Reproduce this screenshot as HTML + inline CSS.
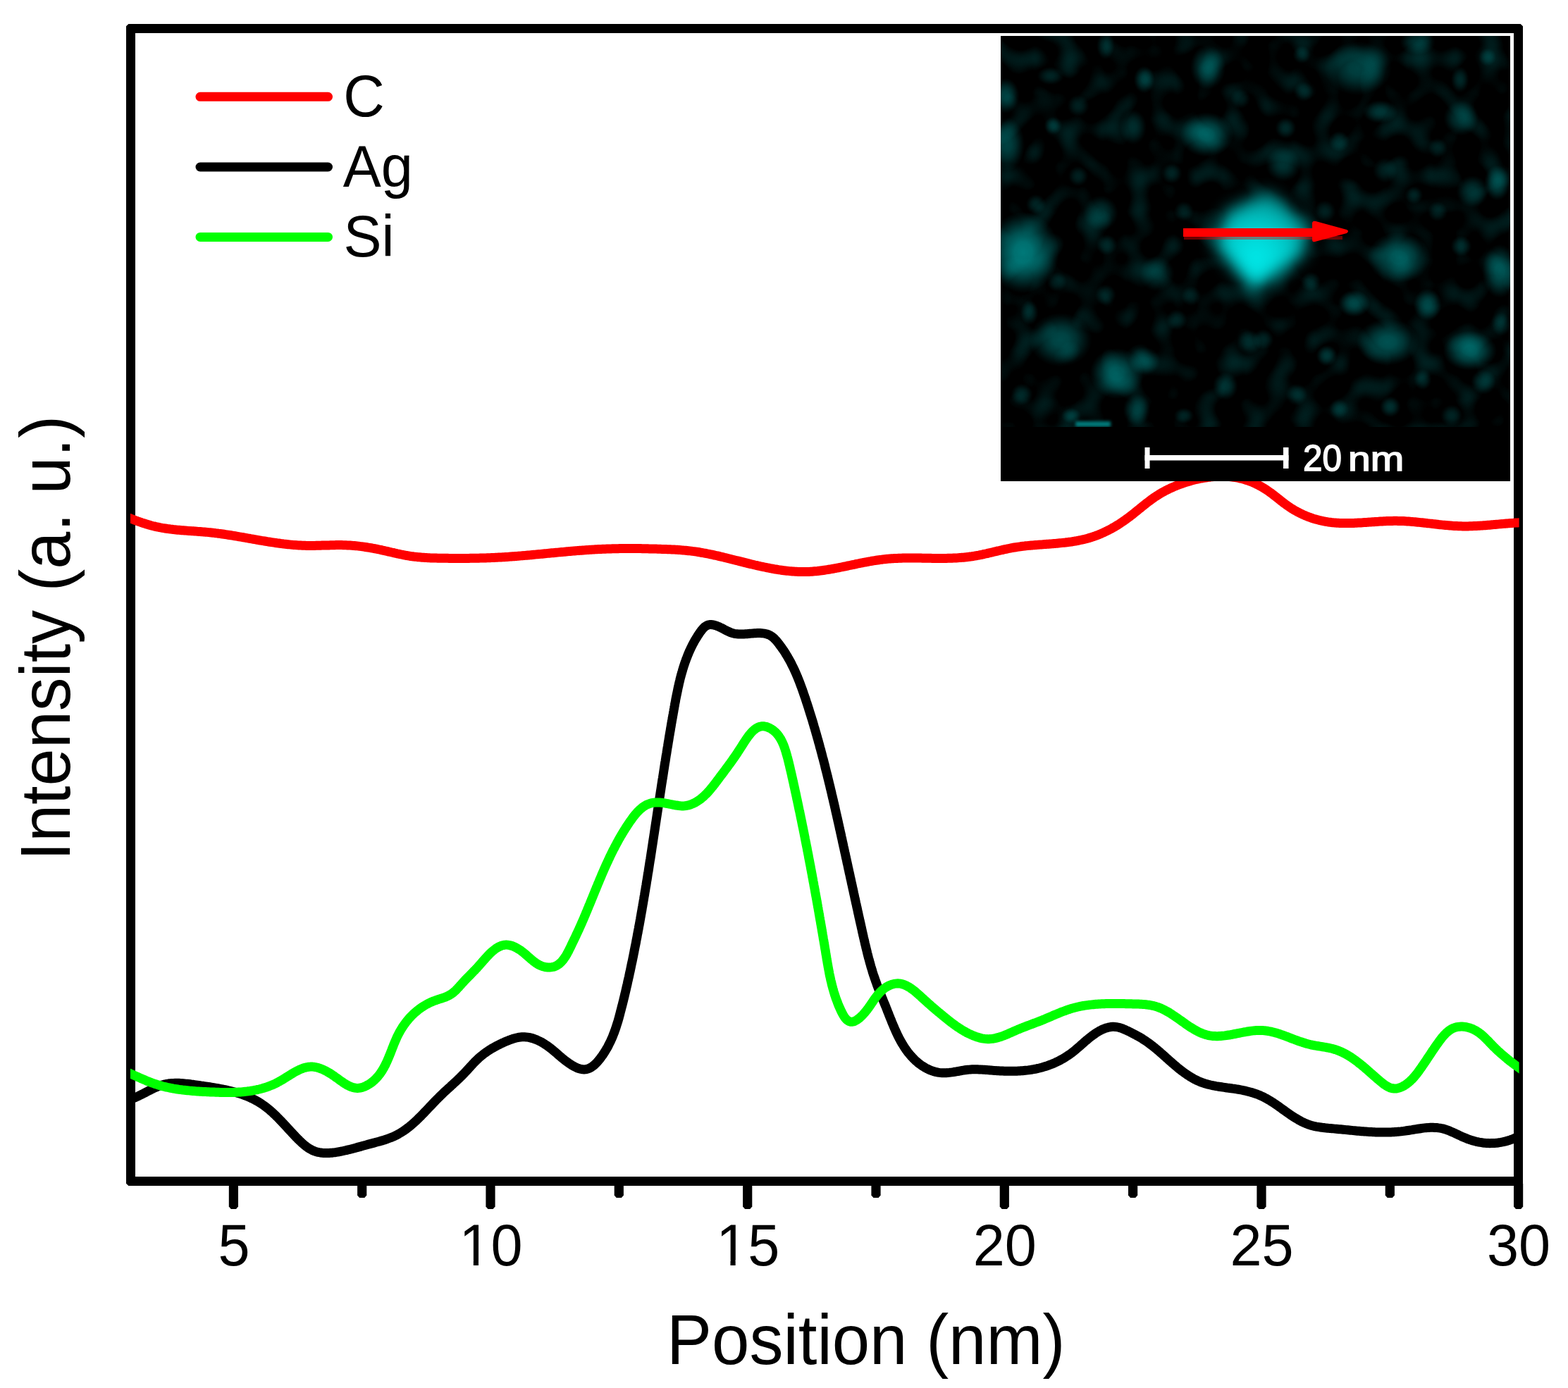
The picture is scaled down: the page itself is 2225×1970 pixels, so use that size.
<!DOCTYPE html>
<html><head><meta charset="utf-8"><title>Line profile</title>
<style>
html,body{margin:0;padding:0;background:#fff;}
body{width:2225px;height:1970px;overflow:hidden;}
svg{display:block;}
text{font-family:"Liberation Sans",Arial,sans-serif;}
</style></head>
<body>
<svg xmlns="http://www.w3.org/2000/svg" width="2225" height="1970" viewBox="0 0 2225 1970">
<defs>
<filter id="bl" x="-50%" y="-100%" width="200%" height="300%"><feGaussianBlur stdDeviation="2"/></filter>
<filter id="bl2" x="-30%" y="-30%" width="160%" height="160%"><feGaussianBlur stdDeviation="11"/></filter>
<radialGradient id="gb"><stop offset="0" stop-color="#00ffff" stop-opacity="1"/><stop offset="0.25" stop-color="#00ffff" stop-opacity="0.92"/><stop offset="0.5" stop-color="#00ffff" stop-opacity="0.66"/><stop offset="0.72" stop-color="#00ffff" stop-opacity="0.34"/><stop offset="0.88" stop-color="#00ffff" stop-opacity="0.12"/><stop offset="1" stop-color="#00ffff" stop-opacity="0"/></radialGradient>
<filter id="tex" x="0" y="0" width="100%" height="100%" filterUnits="objectBoundingBox" color-interpolation-filters="sRGB">
<feTurbulence type="fractalNoise" baseFrequency="0.03" numOctaves="1" seed="5" result="n"/>
<feColorMatrix in="n" type="matrix" values="0 0 0 0 0  1 0 0 0 0  1 0 0 0 0  0 0 0 0 1"/>
<feComponentTransfer><feFuncG type="linear" slope="0.45" intercept="-0.215"/><feFuncB type="linear" slope="0.45" intercept="-0.215"/></feComponentTransfer>
</filter>
<clipPath id="pc"><rect x="185" y="0" width="1970.6" height="1970"/></clipPath>
<clipPath id="ic"><rect x="1420" y="51" width="723" height="555"/></clipPath>
<radialGradient id="cg" cx="0.45" cy="0.66" r="0.7">
<stop offset="0" stop-color="#00ecec"/><stop offset="0.45" stop-color="#00cdcd"/><stop offset="1" stop-color="#008080"/>
</radialGradient>
</defs>
<rect width="2225" height="1970" fill="#fff"/>
<path d="M182.3,34 L2157.7,34 L2161,37.3 L2161,1679.7 L2157.7,1683 L182.3,1683 L179,1679.7 L179,37.3 Z M192,47 L192,1670 L2148,1670 L2148,47 Z" fill="#000" fill-rule="evenodd"/>
<g fill="#000"><polygon points="324.8,1680 338.0,1680 338.0,1712.4 335.0,1716.0 327.8,1716.0 324.8,1712.4"/><polygon points="689.4,1680 702.6,1680 702.6,1712.4 699.6,1716.0 692.4,1716.0 689.4,1712.4"/><polygon points="1054.1,1680 1067.3,1680 1067.3,1712.4 1064.3,1716.0 1057.1,1716.0 1054.1,1712.4"/><polygon points="1418.7,1680 1431.9,1680 1431.9,1712.4 1428.9,1716.0 1421.7,1716.0 1418.7,1712.4"/><polygon points="1783.4,1680 1796.6,1680 1796.6,1712.4 1793.6,1716.0 1786.4,1716.0 1783.4,1712.4"/><polygon points="2148.0,1680 2161.2,1680 2161.2,1712.4 2158.2,1716.0 2151.0,1716.0 2148.0,1712.4"/><polygon points="507.1,1680 520.3,1680 520.3,1696.4 517.3,1700.0 510.1,1700.0 507.1,1696.4"/><polygon points="871.7,1680 884.9,1680 884.9,1696.4 881.9,1700.0 874.7,1700.0 871.7,1696.4"/><polygon points="1236.4,1680 1249.6,1680 1249.6,1696.4 1246.6,1700.0 1239.4,1700.0 1236.4,1696.4"/><polygon points="1601.0,1680 1614.2,1680 1614.2,1696.4 1611.2,1700.0 1604.0,1700.0 1601.0,1696.4"/><polygon points="1965.7,1680 1978.9,1680 1978.9,1696.4 1975.9,1700.0 1968.7,1700.0 1965.7,1696.4"/></g>
<g fill="none" stroke-width="13" stroke-linejoin="round" clip-path="url(#pc)">
<path d="M174.8,732.2 L176.7,732.5 L178.6,733.2 L180.5,734.0 L182.4,734.8 L184.3,735.5 L186.1,736.3 L188.0,737.0 L189.9,737.7 L191.8,738.5 L193.7,739.2 L195.6,739.9 L197.5,740.5 L199.4,741.2 L201.3,741.9 L203.2,742.5 L205.2,743.1 L207.1,743.7 L209.0,744.3 L210.9,744.9 L212.9,745.4 L214.8,746.0 L216.7,746.5 L218.7,746.9 L220.6,747.4 L222.6,747.8 L224.5,748.2 L226.5,748.6 L228.4,749.0 L230.4,749.4 L232.3,749.7 L234.3,750.0 L236.3,750.3 L238.3,750.6 L240.2,750.8 L242.2,751.1 L244.2,751.3 L246.2,751.6 L248.2,751.8 L250.1,752.0 L252.1,752.2 L254.1,752.3 L256.1,752.5 L258.1,752.7 L260.1,752.8 L262.1,753.0 L264.1,753.1 L266.1,753.3 L268.1,753.4 L270.1,753.6 L272.1,753.7 L274.1,753.8 L276.1,754.0 L278.1,754.1 L280.1,754.3 L282.1,754.4 L284.1,754.5 L286.1,754.7 L288.1,754.9 L290.1,755.0 L292.1,755.2 L294.1,755.4 L296.1,755.6 L298.1,755.8 L300.1,756.0 L302.1,756.2 L304.0,756.4 L306.0,756.7 L308.0,756.9 L310.0,757.2 L312.0,757.4 L314.0,757.7 L316.0,758.0 L318.0,758.3 L319.9,758.6 L321.9,758.9 L323.9,759.2 L325.9,759.5 L327.9,759.8 L329.9,760.1 L331.8,760.5 L333.8,760.8 L335.8,761.1 L337.8,761.5 L339.7,761.8 L341.7,762.1 L343.7,762.5 L345.7,762.8 L347.7,763.2 L349.6,763.5 L351.6,763.9 L353.6,764.2 L355.6,764.6 L357.5,764.9 L359.5,765.3 L361.5,765.6 L363.5,766.0 L365.4,766.3 L367.4,766.7 L369.4,767.0 L371.4,767.4 L373.3,767.7 L375.3,768.0 L377.3,768.3 L379.3,768.7 L381.2,769.0 L383.2,769.3 L385.2,769.6 L387.2,769.9 L389.1,770.2 L391.1,770.5 L393.1,770.8 L395.1,771.0 L397.1,771.3 L399.0,771.6 L401.0,771.8 L403.0,772.1 L405.0,772.3 L407.0,772.5 L408.9,772.7 L410.9,772.9 L412.9,773.1 L414.9,773.3 L416.9,773.4 L418.9,773.6 L420.9,773.7 L422.9,773.9 L424.9,774.0 L426.8,774.1 L428.8,774.2 L430.8,774.3 L432.8,774.3 L434.8,774.4 L436.8,774.4 L438.8,774.4 L440.8,774.4 L442.8,774.4 L444.8,774.4 L446.8,774.4 L448.9,774.3 L450.9,774.3 L452.9,774.2 L454.9,774.2 L456.9,774.1 L458.9,774.1 L460.9,774.0 L462.9,774.0 L464.9,773.9 L466.9,773.9 L468.9,773.8 L470.9,773.8 L472.9,773.7 L474.9,773.7 L476.9,773.6 L478.9,773.6 L480.9,773.6 L482.9,773.6 L484.9,773.6 L486.9,773.7 L488.9,773.7 L490.9,773.8 L492.9,773.9 L494.9,774.0 L496.9,774.1 L498.9,774.2 L500.8,774.4 L502.8,774.5 L504.8,774.7 L506.8,774.9 L508.7,775.1 L510.7,775.4 L512.7,775.6 L514.7,775.9 L516.6,776.2 L518.6,776.5 L520.6,776.8 L522.5,777.1 L524.5,777.4 L526.5,777.7 L528.4,778.1 L530.4,778.5 L532.4,778.8 L534.3,779.2 L536.3,779.6 L538.2,780.0 L540.2,780.4 L542.1,780.9 L544.1,781.3 L546.0,781.7 L548.0,782.2 L550.0,782.6 L551.9,783.1 L553.9,783.5 L555.8,784.0 L557.8,784.4 L559.7,784.9 L561.7,785.3 L563.6,785.8 L565.6,786.2 L567.5,786.6 L569.5,787.0 L571.5,787.4 L573.4,787.8 L575.4,788.2 L577.4,788.5 L579.3,788.8 L581.3,789.2 L583.3,789.5 L585.2,789.7 L587.2,790.0 L589.2,790.2 L591.2,790.4 L593.2,790.7 L595.2,790.8 L597.1,791.0 L599.1,791.2 L601.1,791.3 L603.1,791.5 L605.1,791.6 L607.1,791.7 L609.1,791.8 L611.1,791.9 L613.1,792.0 L615.1,792.0 L617.1,792.1 L619.1,792.1 L621.1,792.2 L623.1,792.2 L625.1,792.3 L627.1,792.3 L629.1,792.3 L631.2,792.3 L633.2,792.3 L635.2,792.3 L637.2,792.4 L639.2,792.4 L641.2,792.4 L643.2,792.4 L645.2,792.4 L647.2,792.4 L649.2,792.4 L651.3,792.4 L653.3,792.4 L655.3,792.4 L657.3,792.4 L659.3,792.4 L661.3,792.4 L663.3,792.4 L665.3,792.4 L667.3,792.3 L669.3,792.3 L671.3,792.3 L673.4,792.3 L675.4,792.2 L677.4,792.2 L679.4,792.2 L681.4,792.1 L683.4,792.1 L685.4,792.0 L687.4,792.0 L689.4,791.9 L691.4,791.8 L693.4,791.8 L695.4,791.7 L697.4,791.6 L699.4,791.5 L701.4,791.4 L703.4,791.3 L705.4,791.2 L707.4,791.1 L709.4,791.0 L711.4,790.9 L713.4,790.8 L715.4,790.7 L717.4,790.5 L719.4,790.4 L721.4,790.3 L723.4,790.1 L725.4,790.0 L727.4,789.8 L729.4,789.7 L731.4,789.5 L733.4,789.4 L735.4,789.2 L737.3,789.1 L739.3,788.9 L741.3,788.7 L743.3,788.6 L745.3,788.4 L747.3,788.2 L749.3,788.0 L751.3,787.9 L753.3,787.7 L755.3,787.5 L757.3,787.3 L759.2,787.1 L761.2,786.9 L763.2,786.7 L765.2,786.6 L767.2,786.4 L769.2,786.2 L771.2,786.0 L773.2,785.8 L775.2,785.6 L777.1,785.4 L779.1,785.2 L781.1,785.0 L783.1,784.8 L785.1,784.7 L787.1,784.5 L789.1,784.3 L791.1,784.1 L793.1,783.9 L795.1,783.7 L797.0,783.5 L799.0,783.4 L801.0,783.2 L803.0,783.0 L805.0,782.8 L807.0,782.6 L809.0,782.5 L811.0,782.3 L813.0,782.1 L815.0,782.0 L817.0,781.8 L819.0,781.6 L821.0,781.5 L823.0,781.3 L825.0,781.2 L826.9,781.0 L828.9,780.9 L830.9,780.7 L832.9,780.6 L834.9,780.4 L836.9,780.3 L838.9,780.2 L840.9,780.1 L842.9,779.9 L844.9,779.8 L847.0,779.7 L849.0,779.6 L851.0,779.5 L853.0,779.4 L855.0,779.3 L857.0,779.2 L859.0,779.2 L861.0,779.1 L863.0,779.0 L865.0,779.0 L867.0,778.9 L869.0,778.8 L871.0,778.8 L873.1,778.8 L875.1,778.7 L877.1,778.7 L879.1,778.6 L881.1,778.6 L883.1,778.6 L885.1,778.6 L887.1,778.6 L889.2,778.5 L891.2,778.5 L893.2,778.5 L895.2,778.5 L897.2,778.5 L899.2,778.5 L901.2,778.6 L903.2,778.6 L905.2,778.6 L907.3,778.6 L909.3,778.6 L911.3,778.7 L913.3,778.7 L915.3,778.7 L917.3,778.8 L919.3,778.8 L921.3,778.9 L923.3,778.9 L925.3,779.0 L927.3,779.0 L929.3,779.1 L931.3,779.1 L933.3,779.2 L935.3,779.2 L937.3,779.3 L939.3,779.4 L941.2,779.4 L943.2,779.5 L945.2,779.6 L947.2,779.7 L949.2,779.7 L951.2,779.8 L953.1,779.9 L955.1,780.0 L957.1,780.1 L959.1,780.2 L961.0,780.3 L963.0,780.5 L965.0,780.6 L967.0,780.8 L968.9,780.9 L970.9,781.1 L972.9,781.3 L974.9,781.5 L976.8,781.7 L978.8,781.9 L980.8,782.1 L982.7,782.4 L984.7,782.6 L986.7,782.9 L988.6,783.2 L990.6,783.5 L992.6,783.8 L994.5,784.2 L996.5,784.5 L998.5,784.9 L1000.5,785.2 L1002.4,785.6 L1004.4,786.0 L1006.4,786.4 L1008.3,786.8 L1010.3,787.2 L1012.3,787.6 L1014.2,788.1 L1016.2,788.5 L1018.2,788.9 L1020.1,789.4 L1022.1,789.9 L1024.1,790.3 L1026.0,790.8 L1028.0,791.3 L1030.0,791.7 L1031.9,792.2 L1033.9,792.7 L1035.9,793.2 L1037.8,793.7 L1039.8,794.2 L1041.8,794.7 L1043.7,795.2 L1045.7,795.7 L1047.7,796.1 L1049.6,796.6 L1051.6,797.1 L1053.6,797.6 L1055.5,798.1 L1057.5,798.6 L1059.5,799.1 L1061.4,799.6 L1063.4,800.1 L1065.4,800.6 L1067.3,801.0 L1069.3,801.5 L1071.3,802.0 L1073.2,802.4 L1075.2,802.9 L1077.2,803.3 L1079.2,803.8 L1081.1,804.2 L1083.1,804.6 L1085.1,805.0 L1087.0,805.4 L1089.0,805.8 L1091.0,806.2 L1092.9,806.6 L1094.9,807.0 L1096.9,807.3 L1098.8,807.7 L1100.8,808.0 L1102.8,808.3 L1104.8,808.7 L1106.7,808.9 L1108.7,809.2 L1110.7,809.5 L1112.6,809.8 L1114.6,810.0 L1116.6,810.2 L1118.6,810.4 L1120.5,810.6 L1122.5,810.8 L1124.5,811.0 L1126.4,811.1 L1128.4,811.2 L1130.4,811.3 L1132.4,811.4 L1134.3,811.5 L1136.3,811.5 L1138.3,811.6 L1140.3,811.6 L1142.2,811.6 L1144.2,811.5 L1146.2,811.5 L1148.2,811.4 L1150.1,811.3 L1152.1,811.2 L1154.1,811.0 L1156.1,810.8 L1158.0,810.7 L1160.0,810.5 L1162.0,810.2 L1164.0,810.0 L1166.0,809.8 L1167.9,809.5 L1169.9,809.2 L1171.9,808.9 L1173.9,808.6 L1175.9,808.3 L1177.8,808.0 L1179.8,807.6 L1181.8,807.3 L1183.8,806.9 L1185.8,806.5 L1187.7,806.2 L1189.7,805.8 L1191.7,805.4 L1193.7,805.0 L1195.7,804.6 L1197.7,804.2 L1199.6,803.8 L1201.6,803.4 L1203.6,802.9 L1205.6,802.5 L1207.6,802.1 L1209.6,801.7 L1211.5,801.3 L1213.5,800.9 L1215.5,800.4 L1217.5,800.0 L1219.5,799.6 L1221.5,799.2 L1223.4,798.8 L1225.4,798.4 L1227.4,798.0 L1229.4,797.7 L1231.4,797.3 L1233.4,796.9 L1235.4,796.6 L1237.3,796.2 L1239.3,795.9 L1241.3,795.6 L1243.3,795.3 L1245.3,795.0 L1247.3,794.7 L1249.2,794.4 L1251.2,794.2 L1253.2,793.9 L1255.2,793.7 L1257.2,793.5 L1259.2,793.3 L1261.2,793.1 L1263.1,793.0 L1265.1,792.8 L1267.1,792.7 L1269.1,792.6 L1271.1,792.5 L1273.1,792.4 L1275.1,792.3 L1277.0,792.2 L1279.0,792.2 L1281.0,792.1 L1283.0,792.1 L1285.0,792.1 L1287.0,792.0 L1289.0,792.0 L1291.0,792.0 L1293.0,792.0 L1294.9,792.0 L1296.9,792.0 L1298.9,792.0 L1300.9,792.1 L1302.9,792.1 L1304.9,792.1 L1306.9,792.1 L1308.9,792.2 L1310.9,792.2 L1312.9,792.2 L1314.9,792.3 L1316.9,792.3 L1318.9,792.3 L1320.9,792.3 L1322.9,792.4 L1324.9,792.4 L1326.9,792.4 L1328.9,792.4 L1330.9,792.4 L1332.9,792.4 L1334.9,792.4 L1337.0,792.4 L1339.0,792.4 L1341.0,792.4 L1343.0,792.4 L1345.0,792.3 L1347.0,792.3 L1349.0,792.2 L1351.0,792.2 L1353.1,792.1 L1355.1,792.0 L1357.1,791.9 L1359.1,791.8 L1361.1,791.6 L1363.1,791.5 L1365.1,791.3 L1367.1,791.2 L1369.1,791.0 L1371.1,790.8 L1373.0,790.5 L1375.0,790.3 L1377.0,790.0 L1379.0,789.8 L1381.0,789.5 L1382.9,789.1 L1384.9,788.8 L1386.9,788.4 L1388.8,788.1 L1390.8,787.7 L1392.7,787.3 L1394.7,786.9 L1396.6,786.4 L1398.6,786.0 L1400.5,785.6 L1402.4,785.1 L1404.4,784.7 L1406.3,784.2 L1408.3,783.8 L1410.2,783.3 L1412.1,782.8 L1414.1,782.4 L1416.0,781.9 L1418.0,781.5 L1419.9,781.0 L1421.9,780.6 L1423.8,780.1 L1425.8,779.7 L1427.7,779.3 L1429.7,778.9 L1431.6,778.5 L1433.6,778.1 L1435.6,777.7 L1437.5,777.3 L1439.5,777.0 L1441.5,776.7 L1443.5,776.4 L1445.5,776.1 L1447.4,775.8 L1449.4,775.5 L1451.4,775.3 L1453.4,775.1 L1455.4,774.8 L1457.4,774.6 L1459.5,774.4 L1461.5,774.2 L1463.5,774.0 L1465.5,773.9 L1467.5,773.7 L1469.5,773.5 L1471.5,773.4 L1473.6,773.2 L1475.6,773.1 L1477.6,772.9 L1479.6,772.8 L1481.6,772.6 L1483.7,772.5 L1485.7,772.3 L1487.7,772.2 L1489.7,772.0 L1491.7,771.9 L1493.7,771.7 L1495.8,771.5 L1497.8,771.4 L1499.8,771.2 L1501.8,771.0 L1503.8,770.8 L1505.8,770.6 L1507.8,770.4 L1509.8,770.2 L1511.8,770.0 L1513.8,769.7 L1515.8,769.5 L1517.7,769.2 L1519.7,769.0 L1521.7,768.7 L1523.7,768.3 L1525.6,768.0 L1527.6,767.7 L1529.6,767.3 L1531.5,766.9 L1533.4,766.5 L1535.4,766.1 L1537.3,765.7 L1539.2,765.2 L1541.2,764.7 L1543.1,764.2 L1545.0,763.6 L1546.9,763.1 L1548.8,762.5 L1550.7,761.9 L1552.5,761.2 L1554.4,760.6 L1556.3,759.9 L1558.1,759.2 L1560.0,758.4 L1561.8,757.7 L1563.6,756.9 L1565.4,756.1 L1567.2,755.2 L1569.0,754.4 L1570.8,753.5 L1572.6,752.6 L1574.4,751.7 L1576.2,750.8 L1577.9,749.8 L1579.7,748.8 L1581.4,747.8 L1583.1,746.8 L1584.9,745.8 L1586.6,744.7 L1588.3,743.6 L1590.0,742.5 L1591.6,741.4 L1593.3,740.3 L1595.0,739.1 L1596.6,738.0 L1598.2,736.8 L1599.9,735.6 L1601.5,734.4 L1603.1,733.2 L1604.7,731.9 L1606.3,730.7 L1607.9,729.5 L1609.5,728.2 L1611.0,726.9 L1612.6,725.7 L1614.2,724.4 L1615.7,723.1 L1617.3,721.9 L1618.9,720.6 L1620.4,719.3 L1622.0,718.1 L1623.6,716.8 L1625.1,715.6 L1626.7,714.3 L1628.3,713.1 L1629.9,711.9 L1631.5,710.7 L1633.1,709.5 L1634.7,708.3 L1636.3,707.2 L1637.9,706.0 L1639.6,704.9 L1641.2,703.8 L1642.9,702.8 L1644.6,701.7 L1646.3,700.7 L1648.0,699.7 L1649.7,698.7 L1651.4,697.8 L1653.1,696.8 L1654.9,695.9 L1656.6,695.0 L1658.4,694.2 L1660.2,693.3 L1662.0,692.5 L1663.8,691.7 L1665.6,690.9 L1667.4,690.1 L1669.3,689.4 L1671.1,688.6 L1673.0,687.9 L1674.9,687.2 L1676.8,686.6 L1678.7,685.9 L1680.6,685.2 L1682.5,684.6 L1684.4,684.0 L1686.4,683.4 L1688.3,682.9 L1690.3,682.3 L1692.2,681.8 L1694.2,681.3 L1696.2,680.8 L1698.2,680.3 L1700.2,679.9 L1702.2,679.4 L1704.2,679.0 L1706.2,678.7 L1708.2,678.3 L1710.2,678.0 L1712.3,677.7 L1714.3,677.4 L1716.3,677.2 L1718.4,676.9 L1720.4,676.7 L1722.4,676.6 L1724.4,676.4 L1726.5,676.3 L1728.5,676.2 L1730.5,676.1 L1732.5,676.1 L1734.6,676.1 L1736.6,676.1 L1738.6,676.2 L1740.6,676.3 L1742.6,676.4 L1744.6,676.6 L1746.6,676.8 L1748.6,677.0 L1750.5,677.3 L1752.5,677.5 L1754.5,677.9 L1756.4,678.2 L1758.4,678.6 L1760.3,679.1 L1762.2,679.5 L1764.1,680.0 L1766.0,680.6 L1767.9,681.2 L1769.8,681.8 L1771.6,682.4 L1773.5,683.1 L1775.3,683.8 L1777.2,684.5 L1779.0,685.3 L1780.8,686.1 L1782.6,687.0 L1784.3,687.8 L1786.1,688.7 L1787.9,689.7 L1789.6,690.6 L1791.3,691.6 L1793.0,692.7 L1794.7,693.7 L1796.4,694.8 L1798.1,695.9 L1799.7,697.0 L1801.4,698.2 L1803.0,699.3 L1804.6,700.5 L1806.2,701.8 L1807.8,703.0 L1809.4,704.2 L1811.0,705.5 L1812.6,706.7 L1814.2,708.0 L1815.8,709.2 L1817.3,710.5 L1818.9,711.7 L1820.5,713.0 L1822.1,714.2 L1823.7,715.4 L1825.3,716.6 L1827.0,717.8 L1828.6,718.9 L1830.3,720.0 L1831.9,721.1 L1833.6,722.2 L1835.3,723.2 L1837.0,724.3 L1838.8,725.2 L1840.5,726.2 L1842.3,727.1 L1844.0,728.0 L1845.8,728.9 L1847.6,729.8 L1849.4,730.6 L1851.2,731.4 L1853.0,732.1 L1854.8,732.9 L1856.7,733.6 L1858.5,734.3 L1860.4,734.9 L1862.2,735.6 L1864.1,736.2 L1866.0,736.7 L1867.9,737.3 L1869.8,737.8 L1871.7,738.3 L1873.6,738.7 L1875.5,739.2 L1877.5,739.6 L1879.4,740.0 L1881.3,740.3 L1883.3,740.7 L1885.2,741.0 L1887.2,741.2 L1889.1,741.5 L1891.1,741.7 L1893.1,741.9 L1895.1,742.0 L1897.0,742.2 L1899.0,742.3 L1901.0,742.4 L1903.0,742.5 L1905.0,742.5 L1907.0,742.6 L1909.0,742.6 L1911.0,742.6 L1913.0,742.6 L1915.0,742.6 L1917.0,742.5 L1919.0,742.5 L1921.1,742.4 L1923.1,742.3 L1925.1,742.2 L1927.1,742.1 L1929.1,742.0 L1931.2,741.9 L1933.2,741.8 L1935.2,741.6 L1937.3,741.5 L1939.3,741.4 L1941.3,741.2 L1943.4,741.1 L1945.4,740.9 L1947.4,740.8 L1949.5,740.7 L1951.5,740.5 L1953.5,740.4 L1955.6,740.3 L1957.6,740.1 L1959.6,740.0 L1961.6,739.9 L1963.7,739.8 L1965.7,739.7 L1967.7,739.6 L1969.8,739.5 L1971.8,739.5 L1973.8,739.4 L1975.8,739.4 L1977.8,739.3 L1979.9,739.3 L1981.9,739.3 L1983.9,739.4 L1985.9,739.4 L1987.9,739.5 L1989.9,739.5 L1991.9,739.6 L1993.9,739.7 L1995.9,739.9 L1997.9,740.0 L1999.9,740.1 L2001.9,740.3 L2003.9,740.4 L2005.9,740.6 L2007.9,740.8 L2009.8,741.0 L2011.8,741.2 L2013.8,741.4 L2015.8,741.6 L2017.8,741.8 L2019.8,742.0 L2021.7,742.2 L2023.7,742.4 L2025.7,742.7 L2027.7,742.9 L2029.7,743.1 L2031.6,743.3 L2033.6,743.6 L2035.6,743.8 L2037.6,744.0 L2039.6,744.2 L2041.5,744.5 L2043.5,744.7 L2045.5,744.9 L2047.5,745.1 L2049.5,745.3 L2051.4,745.5 L2053.4,745.6 L2055.4,745.8 L2057.4,746.0 L2059.4,746.1 L2061.4,746.3 L2063.3,746.4 L2065.3,746.5 L2067.3,746.6 L2069.3,746.7 L2071.3,746.8 L2073.3,746.8 L2075.3,746.9 L2077.3,746.9 L2079.3,746.9 L2081.3,746.9 L2083.3,746.9 L2085.3,746.8 L2087.3,746.8 L2089.3,746.7 L2091.3,746.6 L2093.4,746.5 L2095.4,746.4 L2097.4,746.3 L2099.4,746.2 L2101.4,746.1 L2103.4,745.9 L2105.4,745.8 L2107.4,745.7 L2109.5,745.5 L2111.5,745.3 L2113.5,745.2 L2115.5,745.0 L2117.5,744.8 L2119.5,744.6 L2121.5,744.5 L2123.5,744.3 L2125.6,744.1 L2127.6,743.9 L2129.6,743.7 L2131.6,743.6 L2133.6,743.4 L2135.6,743.2 L2137.6,743.0 L2139.6,742.9 L2141.6,742.7 L2143.6,742.6 L2145.6,742.4 L2147.6,742.3 L2149.6,742.1 L2151.6,742.0 L2153.6,741.9 L2155.5,741.8 L2157.5,741.7 L2159.5,741.6 L2161.5,741.5 L2163.5,741.5 L2165.5,741.3" stroke="#ff0000"/>
<path d="M182.7,1560.9 L184.6,1560.2 L186.4,1559.7 L188.2,1559.0 L190.0,1558.4 L191.8,1557.7 L193.6,1556.9 L195.4,1556.1 L197.3,1555.2 L199.1,1554.3 L200.9,1553.4 L202.7,1552.5 L204.6,1551.5 L206.4,1550.6 L208.3,1549.6 L210.1,1548.6 L212.0,1547.7 L213.8,1546.7 L215.7,1545.8 L217.5,1544.9 L219.4,1544.0 L221.3,1543.2 L223.2,1542.4 L225.0,1541.6 L226.9,1540.9 L228.8,1540.3 L230.8,1539.7 L232.7,1539.2 L234.6,1538.8 L236.5,1538.4 L238.4,1538.1 L240.4,1537.8 L242.3,1537.6 L244.3,1537.5 L246.2,1537.4 L248.2,1537.3 L250.1,1537.3 L252.1,1537.3 L254.1,1537.3 L256.1,1537.4 L258.0,1537.6 L260.0,1537.7 L262.0,1537.9 L264.0,1538.1 L266.0,1538.3 L267.9,1538.5 L269.9,1538.8 L271.9,1539.1 L273.9,1539.3 L275.9,1539.6 L277.9,1539.9 L279.9,1540.2 L281.9,1540.5 L283.9,1540.8 L285.9,1541.1 L287.8,1541.3 L289.8,1541.6 L291.8,1541.9 L293.8,1542.2 L295.8,1542.5 L297.8,1542.8 L299.8,1543.1 L301.7,1543.4 L303.7,1543.8 L305.7,1544.1 L307.7,1544.4 L309.6,1544.8 L311.6,1545.1 L313.6,1545.5 L315.5,1545.9 L317.5,1546.3 L319.5,1546.7 L321.4,1547.1 L323.4,1547.6 L325.3,1548.0 L327.3,1548.5 L329.2,1549.0 L331.1,1549.5 L333.1,1550.0 L335.0,1550.6 L336.9,1551.2 L338.8,1551.8 L340.7,1552.4 L342.6,1553.0 L344.5,1553.7 L346.4,1554.4 L348.3,1555.1 L350.1,1555.8 L352.0,1556.6 L353.8,1557.4 L355.7,1558.2 L357.5,1559.1 L359.3,1559.9 L361.0,1560.8 L362.8,1561.8 L364.5,1562.7 L366.2,1563.7 L367.9,1564.7 L369.6,1565.8 L371.3,1566.9 L372.9,1568.0 L374.5,1569.1 L376.1,1570.3 L377.7,1571.5 L379.2,1572.7 L380.8,1573.9 L382.3,1575.2 L383.8,1576.5 L385.3,1577.8 L386.7,1579.1 L388.2,1580.5 L389.7,1581.8 L391.1,1583.2 L392.5,1584.6 L393.9,1586.0 L395.3,1587.4 L396.7,1588.9 L398.1,1590.3 L399.5,1591.8 L400.9,1593.3 L402.3,1594.7 L403.7,1596.2 L405.1,1597.7 L406.5,1599.2 L407.8,1600.7 L409.2,1602.2 L410.6,1603.7 L412.0,1605.2 L413.4,1606.8 L414.8,1608.3 L416.2,1609.8 L417.6,1611.3 L419.0,1612.8 L420.4,1614.3 L421.9,1615.7 L423.3,1617.2 L424.8,1618.7 L426.3,1620.1 L427.8,1621.5 L429.3,1622.9 L430.8,1624.2 L432.4,1625.5 L433.9,1626.7 L435.5,1627.9 L437.1,1629.1 L438.8,1630.1 L440.5,1631.1 L442.2,1632.0 L443.9,1632.9 L445.7,1633.6 L447.5,1634.3 L449.3,1634.9 L451.2,1635.3 L453.1,1635.7 L455.0,1636.0 L457.0,1636.3 L458.9,1636.4 L460.9,1636.5 L462.9,1636.6 L464.9,1636.6 L467.0,1636.5 L469.0,1636.3 L471.0,1636.2 L473.1,1635.9 L475.1,1635.7 L477.2,1635.4 L479.2,1635.0 L481.2,1634.7 L483.2,1634.3 L485.2,1633.9 L487.2,1633.5 L489.2,1633.0 L491.2,1632.6 L493.1,1632.1 L495.1,1631.7 L497.0,1631.2 L498.9,1630.7 L500.8,1630.2 L502.7,1629.7 L504.6,1629.2 L506.5,1628.6 L508.4,1628.1 L510.4,1627.6 L512.3,1627.1 L514.2,1626.5 L516.1,1626.0 L518.0,1625.5 L519.9,1625.0 L521.8,1624.4 L523.8,1623.9 L525.7,1623.4 L527.7,1622.9 L529.6,1622.4 L531.6,1621.9 L533.5,1621.3 L535.5,1620.8 L537.5,1620.3 L539.4,1619.7 L541.4,1619.1 L543.3,1618.6 L545.2,1618.0 L547.2,1617.3 L549.1,1616.7 L551.0,1616.0 L552.8,1615.3 L554.7,1614.6 L556.6,1613.9 L558.4,1613.1 L560.2,1612.2 L562.0,1611.4 L563.7,1610.5 L565.5,1609.5 L567.2,1608.5 L568.9,1607.5 L570.5,1606.5 L572.2,1605.4 L573.8,1604.3 L575.4,1603.2 L577.0,1602.0 L578.6,1600.8 L580.2,1599.6 L581.7,1598.3 L583.2,1597.1 L584.7,1595.8 L586.3,1594.5 L587.7,1593.1 L589.2,1591.8 L590.7,1590.4 L592.2,1589.0 L593.6,1587.6 L595.0,1586.2 L596.5,1584.8 L597.9,1583.4 L599.3,1581.9 L600.7,1580.5 L602.1,1579.0 L603.5,1577.5 L604.9,1576.1 L606.3,1574.6 L607.7,1573.1 L609.1,1571.6 L610.5,1570.2 L611.9,1568.7 L613.3,1567.2 L614.7,1565.7 L616.1,1564.3 L617.5,1562.8 L618.9,1561.4 L620.3,1559.9 L621.8,1558.5 L623.2,1557.1 L624.6,1555.7 L626.0,1554.3 L627.5,1552.9 L628.9,1551.5 L630.4,1550.1 L631.8,1548.8 L633.3,1547.4 L634.8,1546.1 L636.2,1544.8 L637.7,1543.4 L639.2,1542.1 L640.6,1540.7 L642.1,1539.4 L643.5,1538.1 L645.0,1536.7 L646.5,1535.4 L647.9,1534.0 L649.3,1532.7 L650.8,1531.3 L652.2,1529.9 L653.6,1528.6 L655.0,1527.2 L656.4,1525.7 L657.8,1524.3 L659.2,1522.9 L660.6,1521.4 L661.9,1520.0 L663.3,1518.5 L664.7,1517.0 L666.0,1515.5 L667.4,1514.0 L668.7,1512.5 L670.1,1511.1 L671.4,1509.6 L672.8,1508.1 L674.2,1506.7 L675.6,1505.3 L677.1,1503.9 L678.5,1502.5 L680.0,1501.2 L681.5,1499.9 L683.0,1498.6 L684.6,1497.4 L686.1,1496.1 L687.7,1494.9 L689.4,1493.8 L691.0,1492.6 L692.6,1491.5 L694.3,1490.4 L696.0,1489.4 L697.7,1488.3 L699.5,1487.3 L701.2,1486.3 L703.0,1485.4 L704.7,1484.4 L706.5,1483.5 L708.3,1482.6 L710.2,1481.7 L712.0,1480.8 L713.8,1480.0 L715.7,1479.1 L717.6,1478.3 L719.4,1477.5 L721.3,1476.8 L723.2,1476.0 L725.1,1475.3 L727.0,1474.7 L729.0,1474.0 L730.9,1473.5 L732.8,1473.0 L734.8,1472.6 L736.7,1472.2 L738.7,1472.0 L740.6,1471.8 L742.6,1471.7 L744.6,1471.8 L746.5,1471.9 L748.5,1472.1 L750.5,1472.4 L752.5,1472.9 L754.4,1473.4 L756.4,1473.9 L758.3,1474.6 L760.2,1475.3 L762.1,1476.1 L764.0,1477.0 L765.9,1477.9 L767.7,1478.8 L769.5,1479.8 L771.3,1480.9 L773.0,1482.0 L774.7,1483.1 L776.3,1484.2 L778.0,1485.4 L779.5,1486.5 L781.1,1487.7 L782.6,1488.9 L784.1,1490.2 L785.6,1491.4 L787.1,1492.7 L788.6,1493.9 L790.1,1495.2 L791.6,1496.5 L793.1,1497.8 L794.6,1499.1 L796.1,1500.4 L797.7,1501.7 L799.3,1503.0 L800.9,1504.3 L802.6,1505.6 L804.3,1506.9 L806.0,1508.2 L807.8,1509.4 L809.7,1510.6 L811.5,1511.8 L813.4,1512.9 L815.4,1514.0 L817.3,1514.9 L819.2,1515.8 L821.2,1516.5 L823.1,1517.1 L825.0,1517.5 L826.9,1517.8 L828.8,1517.9 L830.6,1517.8 L832.4,1517.5 L834.1,1517.0 L835.9,1516.4 L837.5,1515.6 L839.2,1514.6 L840.8,1513.5 L842.4,1512.3 L843.9,1511.0 L845.4,1509.6 L846.8,1508.1 L848.3,1506.5 L849.6,1504.9 L851.0,1503.2 L852.3,1501.5 L853.5,1499.8 L854.8,1498.1 L855.9,1496.4 L857.1,1494.6 L858.2,1492.9 L859.3,1491.1 L860.3,1489.3 L861.4,1487.6 L862.4,1485.8 L863.3,1484.0 L864.2,1482.2 L865.1,1480.4 L866.0,1478.6 L866.9,1476.7 L867.7,1474.9 L868.5,1473.1 L869.3,1471.2 L870.0,1469.4 L870.7,1467.5 L871.5,1465.7 L872.1,1463.8 L872.8,1461.9 L873.5,1460.0 L874.1,1458.2 L874.7,1456.3 L875.3,1454.4 L875.9,1452.5 L876.5,1450.6 L877.1,1448.7 L877.6,1446.8 L878.2,1444.8 L878.7,1442.9 L879.2,1441.0 L879.7,1439.1 L880.2,1437.2 L880.7,1435.2 L881.2,1433.3 L881.7,1431.4 L882.2,1429.4 L882.7,1427.5 L883.2,1425.6 L883.7,1423.6 L884.2,1421.7 L884.7,1419.7 L885.1,1417.8 L885.6,1415.8 L886.1,1413.9 L886.5,1411.9 L887.0,1410.0 L887.5,1408.0 L887.9,1406.1 L888.4,1404.1 L888.8,1402.2 L889.3,1400.2 L889.7,1398.3 L890.2,1396.3 L890.6,1394.3 L891.0,1392.4 L891.5,1390.4 L891.9,1388.5 L892.4,1386.5 L892.8,1384.5 L893.2,1382.6 L893.6,1380.6 L894.1,1378.7 L894.5,1376.7 L894.9,1374.7 L895.3,1372.8 L895.7,1370.8 L896.1,1368.9 L896.5,1366.9 L897.0,1364.9 L897.4,1363.0 L897.8,1361.0 L898.2,1359.0 L898.6,1357.1 L899.0,1355.1 L899.4,1353.1 L899.8,1351.2 L900.1,1349.2 L900.5,1347.3 L900.9,1345.3 L901.3,1343.3 L901.7,1341.4 L902.1,1339.4 L902.5,1337.4 L902.8,1335.5 L903.2,1333.5 L903.6,1331.5 L904.0,1329.6 L904.3,1327.6 L904.7,1325.6 L905.1,1323.7 L905.4,1321.7 L905.8,1319.7 L906.2,1317.8 L906.5,1315.8 L906.9,1313.8 L907.3,1311.9 L907.6,1309.9 L908.0,1307.9 L908.3,1306.0 L908.7,1304.0 L909.0,1302.0 L909.4,1300.1 L909.7,1298.1 L910.1,1296.1 L910.4,1294.1 L910.8,1292.2 L911.1,1290.2 L911.4,1288.2 L911.8,1286.3 L912.1,1284.3 L912.5,1282.3 L912.8,1280.4 L913.1,1278.4 L913.5,1276.4 L913.8,1274.4 L914.1,1272.5 L914.5,1270.5 L914.8,1268.5 L915.1,1266.6 L915.5,1264.6 L915.8,1262.6 L916.1,1260.6 L916.4,1258.7 L916.8,1256.7 L917.1,1254.7 L917.4,1252.8 L917.7,1250.8 L918.1,1248.8 L918.4,1246.8 L918.7,1244.9 L919.0,1242.9 L919.3,1240.9 L919.6,1238.9 L920.0,1237.0 L920.3,1235.0 L920.6,1233.0 L920.9,1231.1 L921.2,1229.1 L921.5,1227.1 L921.8,1225.1 L922.1,1223.2 L922.4,1221.2 L922.8,1219.2 L923.1,1217.2 L923.4,1215.3 L923.7,1213.3 L924.0,1211.3 L924.3,1209.3 L924.6,1207.4 L924.9,1205.4 L925.2,1203.4 L925.5,1201.4 L925.8,1199.5 L926.1,1197.5 L926.4,1195.5 L926.7,1193.5 L927.0,1191.6 L927.3,1189.6 L927.6,1187.6 L927.9,1185.6 L928.2,1183.7 L928.5,1181.7 L928.8,1179.7 L929.1,1177.7 L929.4,1175.7 L929.7,1173.8 L930.0,1171.8 L930.3,1169.8 L930.6,1167.8 L930.9,1165.9 L931.2,1163.9 L931.5,1161.9 L931.8,1159.9 L932.1,1158.0 L932.4,1156.0 L932.7,1154.0 L933.0,1152.0 L933.3,1150.0 L933.6,1148.1 L933.9,1146.1 L934.2,1144.1 L934.5,1142.1 L934.8,1140.1 L935.1,1138.2 L935.4,1136.2 L935.7,1134.2 L936.0,1132.2 L936.3,1130.3 L936.6,1128.3 L936.9,1126.3 L937.2,1124.3 L937.5,1122.3 L937.8,1120.4 L938.1,1118.4 L938.4,1116.4 L938.7,1114.4 L939.0,1112.4 L939.3,1110.5 L939.6,1108.5 L939.9,1106.5 L940.3,1104.5 L940.6,1102.5 L940.9,1100.6 L941.2,1098.6 L941.5,1096.6 L941.8,1094.6 L942.1,1092.6 L942.4,1090.7 L942.7,1088.7 L943.0,1086.7 L943.3,1084.7 L943.6,1082.7 L944.0,1080.8 L944.3,1078.8 L944.6,1076.8 L944.9,1074.8 L945.2,1072.8 L945.5,1070.9 L945.9,1068.9 L946.2,1066.9 L946.5,1064.9 L946.8,1062.9 L947.1,1061.0 L947.5,1059.0 L947.8,1057.0 L948.1,1055.0 L948.4,1053.0 L948.8,1051.0 L949.1,1049.1 L949.4,1047.1 L949.7,1045.1 L950.1,1043.1 L950.4,1041.1 L950.7,1039.2 L951.1,1037.2 L951.4,1035.2 L951.7,1033.2 L952.1,1031.2 L952.4,1029.2 L952.7,1027.3 L953.1,1025.3 L953.4,1023.3 L953.8,1021.3 L954.1,1019.3 L954.5,1017.4 L954.8,1015.4 L955.2,1013.4 L955.5,1011.4 L955.9,1009.4 L956.2,1007.4 L956.6,1005.5 L956.9,1003.5 L957.3,1001.5 L957.6,999.5 L958.0,997.5 L958.4,995.6 L958.7,993.6 L959.1,991.6 L959.5,989.6 L959.9,987.6 L960.3,985.7 L960.7,983.7 L961.1,981.7 L961.5,979.8 L961.9,977.8 L962.3,975.8 L962.8,973.9 L963.2,971.9 L963.6,970.0 L964.1,968.0 L964.6,966.1 L965.0,964.1 L965.5,962.2 L966.0,960.3 L966.5,958.3 L967.1,956.4 L967.6,954.5 L968.2,952.6 L968.7,950.6 L969.3,948.7 L969.9,946.8 L970.5,944.9 L971.1,943.1 L971.7,941.2 L972.4,939.3 L973.1,937.4 L973.7,935.6 L974.5,933.7 L975.2,931.9 L975.9,930.0 L976.7,928.2 L977.4,926.3 L978.2,924.5 L979.1,922.7 L979.9,920.9 L980.7,919.1 L981.6,917.3 L982.5,915.5 L983.4,913.8 L984.4,912.0 L985.3,910.3 L986.3,908.5 L987.4,906.8 L988.4,905.1 L989.5,903.3 L990.5,901.6 L991.7,900.0 L992.8,898.3 L994.0,896.6 L995.2,895.0 L996.4,893.4 L997.7,891.9 L999.1,890.5 L1000.5,889.3 L1002.0,888.3 L1003.6,887.5 L1005.3,886.9 L1007.1,886.6 L1009.0,886.5 L1010.9,886.7 L1013.0,887.1 L1015.1,887.7 L1017.2,888.4 L1019.3,889.2 L1021.4,890.2 L1023.5,891.1 L1025.5,892.1 L1027.4,893.2 L1029.3,894.2 L1031.1,895.1 L1032.9,896.0 L1034.7,896.8 L1036.4,897.6 L1038.2,898.3 L1040.0,898.8 L1041.9,899.3 L1043.8,899.6 L1045.7,899.8 L1047.7,900.0 L1049.7,900.1 L1051.7,900.1 L1053.7,900.0 L1055.8,899.9 L1057.9,899.8 L1060.0,899.7 L1062.1,899.5 L1064.2,899.3 L1066.3,899.1 L1068.4,898.9 L1070.5,898.8 L1072.6,898.7 L1074.6,898.6 L1076.7,898.5 L1078.7,898.6 L1080.7,898.7 L1082.6,898.9 L1084.6,899.1 L1086.4,899.5 L1088.3,900.0 L1090.0,900.6 L1091.8,901.3 L1093.4,902.2 L1095.0,903.2 L1096.6,904.4 L1098.1,905.7 L1099.5,907.1 L1100.9,908.6 L1102.2,910.1 L1103.6,911.7 L1104.9,913.4 L1106.1,915.0 L1107.3,916.7 L1108.6,918.3 L1109.7,920.0 L1110.9,921.7 L1112.1,923.3 L1113.2,925.0 L1114.3,926.7 L1115.3,928.5 L1116.4,930.2 L1117.4,931.9 L1118.4,933.7 L1119.4,935.4 L1120.4,937.2 L1121.4,938.9 L1122.3,940.7 L1123.2,942.5 L1124.1,944.3 L1125.0,946.1 L1125.9,947.9 L1126.7,949.7 L1127.6,951.5 L1128.4,953.3 L1129.2,955.1 L1130.0,957.0 L1130.8,958.8 L1131.5,960.6 L1132.3,962.5 L1133.0,964.3 L1133.8,966.2 L1134.5,968.1 L1135.2,969.9 L1135.9,971.8 L1136.6,973.7 L1137.3,975.5 L1138.0,977.4 L1138.7,979.3 L1139.3,981.2 L1140.0,983.1 L1140.6,985.0 L1141.3,986.8 L1141.9,988.7 L1142.6,990.6 L1143.2,992.5 L1143.8,994.4 L1144.4,996.3 L1145.1,998.2 L1145.7,1000.1 L1146.3,1002.0 L1146.9,1003.9 L1147.5,1005.8 L1148.1,1007.7 L1148.7,1009.6 L1149.3,1011.6 L1149.9,1013.5 L1150.5,1015.4 L1151.1,1017.3 L1151.7,1019.2 L1152.3,1021.1 L1152.9,1023.0 L1153.4,1024.9 L1154.0,1026.9 L1154.6,1028.8 L1155.1,1030.7 L1155.7,1032.6 L1156.3,1034.5 L1156.8,1036.5 L1157.4,1038.4 L1157.9,1040.3 L1158.5,1042.2 L1159.0,1044.1 L1159.6,1046.1 L1160.1,1048.0 L1160.7,1049.9 L1161.2,1051.9 L1161.7,1053.8 L1162.3,1055.7 L1162.8,1057.6 L1163.3,1059.6 L1163.8,1061.5 L1164.4,1063.4 L1164.9,1065.4 L1165.4,1067.3 L1165.9,1069.2 L1166.4,1071.2 L1166.9,1073.1 L1167.4,1075.0 L1168.0,1077.0 L1168.5,1078.9 L1169.0,1080.9 L1169.5,1082.8 L1170.0,1084.7 L1170.5,1086.7 L1170.9,1088.6 L1171.4,1090.6 L1171.9,1092.5 L1172.4,1094.5 L1172.9,1096.4 L1173.4,1098.3 L1173.9,1100.3 L1174.3,1102.2 L1174.8,1104.2 L1175.3,1106.1 L1175.8,1108.1 L1176.2,1110.0 L1176.7,1112.0 L1177.2,1113.9 L1177.7,1115.9 L1178.1,1117.8 L1178.6,1119.8 L1179.1,1121.7 L1179.5,1123.7 L1180.0,1125.6 L1180.4,1127.6 L1180.9,1129.5 L1181.3,1131.5 L1181.8,1133.4 L1182.3,1135.4 L1182.7,1137.3 L1183.2,1139.3 L1183.6,1141.2 L1184.1,1143.2 L1184.5,1145.1 L1185.0,1147.1 L1185.4,1149.0 L1185.8,1151.0 L1186.3,1152.9 L1186.7,1154.9 L1187.2,1156.8 L1187.6,1158.8 L1188.0,1160.7 L1188.5,1162.7 L1188.9,1164.6 L1189.4,1166.6 L1189.8,1168.6 L1190.2,1170.5 L1190.7,1172.5 L1191.1,1174.4 L1191.5,1176.4 L1192.0,1178.3 L1192.4,1180.3 L1192.8,1182.2 L1193.3,1184.2 L1193.7,1186.1 L1194.1,1188.1 L1194.6,1190.0 L1195.0,1192.0 L1195.4,1194.0 L1195.8,1195.9 L1196.3,1197.9 L1196.7,1199.8 L1197.1,1201.8 L1197.6,1203.7 L1198.0,1205.7 L1198.4,1207.6 L1198.8,1209.6 L1199.3,1211.5 L1199.7,1213.5 L1200.1,1215.4 L1200.5,1217.4 L1201.0,1219.3 L1201.4,1221.3 L1201.8,1223.2 L1202.2,1225.2 L1202.7,1227.1 L1203.1,1229.1 L1203.5,1231.0 L1203.9,1233.0 L1204.4,1234.9 L1204.8,1236.9 L1205.2,1238.8 L1205.7,1240.8 L1206.1,1242.7 L1206.5,1244.7 L1206.9,1246.6 L1207.4,1248.6 L1207.8,1250.5 L1208.2,1252.5 L1208.6,1254.4 L1209.1,1256.4 L1209.5,1258.3 L1209.9,1260.3 L1210.3,1262.2 L1210.8,1264.2 L1211.2,1266.1 L1211.6,1268.1 L1212.1,1270.1 L1212.5,1272.0 L1212.9,1274.0 L1213.3,1275.9 L1213.8,1277.9 L1214.2,1279.8 L1214.6,1281.8 L1215.1,1283.7 L1215.5,1285.7 L1215.9,1287.6 L1216.4,1289.6 L1216.8,1291.5 L1217.2,1293.5 L1217.6,1295.5 L1218.1,1297.4 L1218.5,1299.4 L1218.9,1301.3 L1219.4,1303.3 L1219.8,1305.3 L1220.2,1307.2 L1220.7,1309.2 L1221.1,1311.1 L1221.6,1313.1 L1222.0,1315.1 L1222.4,1317.0 L1222.9,1319.0 L1223.3,1320.9 L1223.7,1322.9 L1224.2,1324.9 L1224.6,1326.8 L1225.1,1328.8 L1225.5,1330.8 L1226.0,1332.7 L1226.4,1334.7 L1226.9,1336.6 L1227.3,1338.6 L1227.8,1340.6 L1228.3,1342.5 L1228.7,1344.5 L1229.2,1346.4 L1229.7,1348.4 L1230.2,1350.3 L1230.6,1352.3 L1231.1,1354.2 L1231.6,1356.2 L1232.1,1358.1 L1232.6,1360.0 L1233.2,1362.0 L1233.7,1363.9 L1234.2,1365.8 L1234.8,1367.8 L1235.3,1369.7 L1235.8,1371.6 L1236.4,1373.5 L1237.0,1375.4 L1237.6,1377.3 L1238.1,1379.2 L1238.7,1381.1 L1239.3,1383.0 L1240.0,1384.9 L1240.6,1386.8 L1241.2,1388.6 L1241.9,1390.5 L1242.5,1392.4 L1243.2,1394.2 L1243.9,1396.1 L1244.5,1397.9 L1245.2,1399.8 L1245.9,1401.6 L1246.6,1403.5 L1247.4,1405.3 L1248.1,1407.1 L1248.8,1409.0 L1249.6,1410.8 L1250.3,1412.6 L1251.0,1414.5 L1251.8,1416.3 L1252.5,1418.1 L1253.3,1420.0 L1254.0,1421.8 L1254.8,1423.7 L1255.6,1425.5 L1256.3,1427.4 L1257.1,1429.2 L1257.8,1431.1 L1258.6,1433.0 L1259.3,1434.9 L1260.0,1436.7 L1260.8,1438.6 L1261.5,1440.5 L1262.3,1442.4 L1263.0,1444.3 L1263.8,1446.2 L1264.6,1448.1 L1265.3,1450.0 L1266.1,1451.9 L1266.9,1453.8 L1267.7,1455.7 L1268.5,1457.5 L1269.3,1459.4 L1270.1,1461.3 L1270.9,1463.1 L1271.8,1465.0 L1272.6,1466.8 L1273.5,1468.7 L1274.4,1470.5 L1275.3,1472.3 L1276.2,1474.1 L1277.2,1475.9 L1278.1,1477.6 L1279.1,1479.4 L1280.1,1481.1 L1281.2,1482.8 L1282.2,1484.5 L1283.3,1486.2 L1284.4,1487.9 L1285.5,1489.5 L1286.7,1491.1 L1287.8,1492.7 L1289.0,1494.3 L1290.3,1495.8 L1291.5,1497.3 L1292.8,1498.8 L1294.2,1500.3 L1295.5,1501.7 L1296.9,1503.1 L1298.3,1504.5 L1299.8,1505.9 L1301.3,1507.2 L1302.8,1508.5 L1304.4,1509.7 L1306.0,1510.9 L1307.6,1512.1 L1309.3,1513.2 L1311.0,1514.2 L1312.7,1515.3 L1314.4,1516.2 L1316.2,1517.1 L1317.9,1518.0 L1319.7,1518.8 L1321.6,1519.5 L1323.4,1520.1 L1325.3,1520.7 L1327.2,1521.3 L1329.1,1521.7 L1331.0,1522.1 L1332.9,1522.4 L1334.9,1522.6 L1336.9,1522.8 L1338.8,1522.8 L1340.8,1522.8 L1342.8,1522.7 L1344.8,1522.6 L1346.8,1522.4 L1348.9,1522.1 L1350.9,1521.9 L1352.9,1521.6 L1355.0,1521.2 L1357.0,1520.9 L1359.0,1520.5 L1361.1,1520.2 L1363.1,1519.8 L1365.2,1519.4 L1367.2,1519.1 L1369.2,1518.8 L1371.3,1518.5 L1373.3,1518.3 L1375.3,1518.1 L1377.3,1517.9 L1379.3,1517.8 L1381.3,1517.8 L1383.3,1517.7 L1385.3,1517.7 L1387.3,1517.8 L1389.3,1517.9 L1391.3,1517.9 L1393.2,1518.1 L1395.2,1518.2 L1397.2,1518.3 L1399.2,1518.5 L1401.1,1518.6 L1403.1,1518.8 L1405.1,1519.0 L1407.1,1519.1 L1409.1,1519.3 L1411.1,1519.4 L1413.1,1519.6 L1415.0,1519.7 L1417.0,1519.8 L1419.0,1519.9 L1421.0,1520.0 L1423.0,1520.1 L1425.0,1520.2 L1427.0,1520.2 L1429.0,1520.3 L1431.0,1520.3 L1433.0,1520.3 L1435.1,1520.3 L1437.1,1520.3 L1439.1,1520.3 L1441.1,1520.2 L1443.1,1520.2 L1445.1,1520.1 L1447.1,1520.0 L1449.0,1519.8 L1451.0,1519.7 L1453.0,1519.5 L1455.0,1519.3 L1457.0,1519.1 L1459.0,1518.9 L1461.0,1518.6 L1462.9,1518.3 L1464.9,1518.0 L1466.9,1517.6 L1468.9,1517.3 L1470.8,1516.9 L1472.8,1516.4 L1474.7,1516.0 L1476.7,1515.5 L1478.6,1515.0 L1480.5,1514.4 L1482.5,1513.8 L1484.4,1513.2 L1486.3,1512.6 L1488.2,1511.9 L1490.1,1511.2 L1492.0,1510.5 L1493.8,1509.7 L1495.7,1508.9 L1497.5,1508.1 L1499.4,1507.2 L1501.2,1506.4 L1503.0,1505.5 L1504.8,1504.5 L1506.5,1503.6 L1508.3,1502.6 L1510.0,1501.6 L1511.7,1500.5 L1513.4,1499.4 L1515.1,1498.3 L1516.7,1497.2 L1518.4,1496.1 L1520.0,1494.9 L1521.6,1493.7 L1523.1,1492.5 L1524.7,1491.2 L1526.2,1490.0 L1527.7,1488.7 L1529.2,1487.4 L1530.7,1486.1 L1532.2,1484.8 L1533.7,1483.5 L1535.2,1482.2 L1536.7,1480.8 L1538.2,1479.5 L1539.7,1478.2 L1541.2,1476.9 L1542.8,1475.6 L1544.3,1474.3 L1545.9,1473.0 L1547.5,1471.7 L1549.2,1470.5 L1550.8,1469.3 L1552.5,1468.1 L1554.2,1466.9 L1556.0,1465.7 L1557.7,1464.6 L1559.5,1463.6 L1561.4,1462.6 L1563.2,1461.6 L1565.1,1460.8 L1567.0,1460.0 L1568.8,1459.3 L1570.8,1458.7 L1572.7,1458.2 L1574.6,1457.8 L1576.5,1457.5 L1578.5,1457.3 L1580.4,1457.3 L1582.4,1457.4 L1584.3,1457.6 L1586.3,1458.0 L1588.2,1458.4 L1590.2,1459.0 L1592.1,1459.7 L1594.0,1460.4 L1595.9,1461.2 L1597.8,1462.1 L1599.7,1463.0 L1601.6,1463.8 L1603.4,1464.7 L1605.2,1465.6 L1607.0,1466.6 L1608.8,1467.5 L1610.5,1468.4 L1612.3,1469.3 L1614.0,1470.3 L1615.7,1471.2 L1617.4,1472.2 L1619.1,1473.2 L1620.8,1474.2 L1622.4,1475.3 L1624.1,1476.3 L1625.7,1477.4 L1627.3,1478.5 L1628.9,1479.6 L1630.5,1480.8 L1632.1,1482.0 L1633.7,1483.2 L1635.3,1484.4 L1636.9,1485.7 L1638.4,1486.9 L1640.0,1488.2 L1641.6,1489.5 L1643.1,1490.8 L1644.7,1492.2 L1646.2,1493.5 L1647.7,1494.8 L1649.3,1496.2 L1650.8,1497.6 L1652.4,1498.9 L1653.9,1500.3 L1655.4,1501.7 L1657.0,1503.0 L1658.5,1504.4 L1660.0,1505.8 L1661.6,1507.2 L1663.1,1508.5 L1664.7,1509.9 L1666.2,1511.2 L1667.8,1512.5 L1669.4,1513.9 L1670.9,1515.2 L1672.5,1516.5 L1674.1,1517.7 L1675.7,1519.0 L1677.3,1520.2 L1678.9,1521.4 L1680.5,1522.6 L1682.2,1523.8 L1683.8,1524.9 L1685.5,1526.1 L1687.1,1527.1 L1688.8,1528.2 L1690.5,1529.2 L1692.2,1530.2 L1693.9,1531.2 L1695.7,1532.1 L1697.4,1533.0 L1699.2,1533.8 L1701.0,1534.6 L1702.8,1535.4 L1704.6,1536.1 L1706.4,1536.8 L1708.3,1537.4 L1710.1,1538.0 L1712.0,1538.5 L1713.9,1539.1 L1715.8,1539.5 L1717.8,1540.0 L1719.7,1540.4 L1721.6,1540.8 L1723.6,1541.2 L1725.6,1541.6 L1727.5,1541.9 L1729.5,1542.2 L1731.5,1542.5 L1733.5,1542.8 L1735.5,1543.1 L1737.5,1543.4 L1739.5,1543.7 L1741.5,1544.0 L1743.5,1544.2 L1745.5,1544.5 L1747.5,1544.8 L1749.5,1545.1 L1751.5,1545.3 L1753.5,1545.6 L1755.5,1546.0 L1757.5,1546.3 L1759.4,1546.6 L1761.4,1547.0 L1763.4,1547.4 L1765.3,1547.8 L1767.3,1548.2 L1769.2,1548.7 L1771.1,1549.2 L1773.1,1549.7 L1775.0,1550.2 L1776.9,1550.8 L1778.7,1551.4 L1780.6,1552.0 L1782.5,1552.6 L1784.3,1553.3 L1786.2,1554.0 L1788.0,1554.8 L1789.8,1555.6 L1791.6,1556.4 L1793.4,1557.3 L1795.1,1558.2 L1796.9,1559.1 L1798.6,1560.1 L1800.3,1561.1 L1802.1,1562.1 L1803.8,1563.2 L1805.4,1564.2 L1807.1,1565.3 L1808.8,1566.5 L1810.5,1567.6 L1812.2,1568.8 L1813.8,1569.9 L1815.5,1571.1 L1817.1,1572.3 L1818.8,1573.5 L1820.4,1574.7 L1822.1,1575.8 L1823.7,1577.0 L1825.4,1578.2 L1827.0,1579.4 L1828.7,1580.5 L1830.4,1581.7 L1832.0,1582.8 L1833.7,1584.0 L1835.4,1585.1 L1837.1,1586.1 L1838.8,1587.2 L1840.5,1588.2 L1842.2,1589.2 L1844.0,1590.2 L1845.7,1591.2 L1847.5,1592.1 L1849.2,1592.9 L1851.0,1593.8 L1852.8,1594.5 L1854.7,1595.3 L1856.5,1596.0 L1858.4,1596.6 L1860.3,1597.2 L1862.2,1597.7 L1864.1,1598.2 L1866.0,1598.7 L1868.0,1599.1 L1870.0,1599.4 L1871.9,1599.7 L1873.9,1600.0 L1875.9,1600.3 L1878.0,1600.5 L1880.0,1600.8 L1882.0,1601.0 L1884.0,1601.2 L1886.1,1601.4 L1888.1,1601.5 L1890.1,1601.7 L1892.2,1601.9 L1894.2,1602.1 L1896.2,1602.3 L1898.2,1602.5 L1900.2,1602.7 L1902.3,1602.8 L1904.3,1603.0 L1906.3,1603.2 L1908.3,1603.4 L1910.3,1603.6 L1912.3,1603.8 L1914.3,1604.0 L1916.3,1604.2 L1918.3,1604.4 L1920.3,1604.6 L1922.3,1604.8 L1924.3,1605.0 L1926.3,1605.2 L1928.3,1605.3 L1930.3,1605.5 L1932.2,1605.7 L1934.2,1605.8 L1936.2,1606.0 L1938.2,1606.1 L1940.2,1606.2 L1942.2,1606.4 L1944.2,1606.5 L1946.1,1606.6 L1948.1,1606.7 L1950.1,1606.8 L1952.1,1606.9 L1954.1,1606.9 L1956.0,1607.0 L1958.0,1607.0 L1960.0,1607.1 L1962.0,1607.1 L1964.0,1607.1 L1965.9,1607.1 L1967.9,1607.0 L1969.9,1607.0 L1971.9,1606.9 L1973.9,1606.9 L1975.8,1606.8 L1977.8,1606.7 L1979.8,1606.5 L1981.8,1606.4 L1983.8,1606.2 L1985.8,1606.1 L1987.8,1605.9 L1989.8,1605.6 L1991.8,1605.4 L1993.8,1605.1 L1995.8,1604.8 L1997.8,1604.5 L1999.8,1604.2 L2001.8,1603.9 L2003.8,1603.6 L2005.8,1603.2 L2007.8,1602.9 L2009.8,1602.6 L2011.8,1602.3 L2013.8,1602.0 L2015.8,1601.7 L2017.7,1601.4 L2019.7,1601.1 L2021.7,1600.9 L2023.7,1600.7 L2025.7,1600.6 L2027.7,1600.4 L2029.7,1600.3 L2031.6,1600.3 L2033.6,1600.3 L2035.6,1600.4 L2037.5,1600.5 L2039.5,1600.6 L2041.4,1600.9 L2043.4,1601.1 L2045.3,1601.5 L2047.3,1601.9 L2049.2,1602.4 L2051.1,1603.0 L2053.0,1603.6 L2054.9,1604.3 L2056.8,1605.1 L2058.7,1605.9 L2060.6,1606.7 L2062.5,1607.5 L2064.4,1608.4 L2066.3,1609.3 L2068.2,1610.2 L2070.1,1611.1 L2072.0,1612.0 L2073.9,1612.9 L2075.8,1613.7 L2077.7,1614.5 L2079.6,1615.3 L2081.5,1616.1 L2083.4,1616.8 L2085.3,1617.5 L2087.2,1618.1 L2089.1,1618.7 L2091.0,1619.3 L2092.9,1619.8 L2094.8,1620.3 L2096.7,1620.7 L2098.6,1621.1 L2100.6,1621.4 L2102.5,1621.7 L2104.4,1622.0 L2106.3,1622.2 L2108.3,1622.4 L2110.2,1622.5 L2112.1,1622.6 L2114.1,1622.7 L2116.0,1622.6 L2117.9,1622.6 L2119.9,1622.5 L2121.8,1622.4 L2123.7,1622.2 L2125.7,1622.0 L2127.6,1621.7 L2129.6,1621.4 L2131.5,1621.0 L2133.4,1620.6 L2135.4,1620.2 L2137.3,1619.6 L2139.3,1619.1 L2141.2,1618.5 L2143.1,1617.9 L2145.1,1617.2 L2147.0,1616.4 L2149.0,1615.6 L2150.9,1614.8 L2152.8,1613.9 L2154.8,1613.0 L2156.7,1612.0 L2158.7,1611.0 L2160.6,1610.1 L2162.5,1609.3 L2164.5,1608.6 L2166.4,1608.2 L2168.3,1608.5" stroke="#000000"/>
<path d="M174.8,1519.4 L176.7,1520.1 L178.5,1520.9 L180.3,1521.7 L182.1,1522.5 L183.9,1523.3 L185.7,1524.1 L187.5,1524.9 L189.4,1525.7 L191.2,1526.6 L193.0,1527.4 L194.9,1528.2 L196.7,1529.0 L198.6,1529.9 L200.4,1530.7 L202.3,1531.5 L204.1,1532.3 L206.0,1533.1 L207.9,1533.9 L209.7,1534.7 L211.6,1535.4 L213.5,1536.1 L215.4,1536.8 L217.3,1537.5 L219.2,1538.2 L221.1,1538.8 L223.0,1539.4 L224.9,1540.0 L226.8,1540.6 L228.7,1541.1 L230.6,1541.7 L232.6,1542.2 L234.5,1542.6 L236.4,1543.1 L238.4,1543.5 L240.3,1543.9 L242.3,1544.3 L244.2,1544.7 L246.2,1545.1 L248.1,1545.4 L250.1,1545.7 L252.1,1546.0 L254.0,1546.3 L256.0,1546.6 L258.0,1546.8 L259.9,1547.1 L261.9,1547.3 L263.9,1547.5 L265.9,1547.7 L267.9,1547.9 L269.9,1548.1 L271.9,1548.3 L273.9,1548.5 L275.9,1548.6 L277.9,1548.8 L279.9,1548.9 L281.9,1549.0 L283.9,1549.2 L285.9,1549.3 L287.9,1549.4 L289.9,1549.5 L291.9,1549.6 L293.9,1549.7 L296.0,1549.8 L298.0,1549.9 L300.0,1550.0 L302.0,1550.0 L304.0,1550.1 L306.1,1550.2 L308.1,1550.3 L310.1,1550.3 L312.1,1550.4 L314.1,1550.4 L316.2,1550.5 L318.2,1550.5 L320.2,1550.5 L322.2,1550.5 L324.2,1550.5 L326.2,1550.5 L328.3,1550.5 L330.3,1550.5 L332.3,1550.4 L334.3,1550.3 L336.3,1550.2 L338.3,1550.1 L340.3,1550.0 L342.3,1549.9 L344.3,1549.7 L346.2,1549.5 L348.2,1549.3 L350.2,1549.1 L352.2,1548.8 L354.1,1548.6 L356.1,1548.3 L358.1,1548.0 L360.0,1547.6 L362.0,1547.2 L363.9,1546.9 L365.8,1546.4 L367.8,1546.0 L369.7,1545.5 L371.6,1545.0 L373.5,1544.4 L375.4,1543.9 L377.3,1543.3 L379.2,1542.6 L381.0,1542.0 L382.9,1541.2 L384.8,1540.5 L386.6,1539.7 L388.5,1538.9 L390.3,1538.1 L392.1,1537.2 L393.9,1536.2 L395.7,1535.3 L397.5,1534.3 L399.3,1533.2 L401.1,1532.2 L402.9,1531.1 L404.6,1530.0 L406.4,1528.9 L408.2,1527.8 L409.9,1526.7 L411.7,1525.6 L413.4,1524.5 L415.2,1523.5 L416.9,1522.4 L418.7,1521.4 L420.4,1520.5 L422.2,1519.6 L424.0,1518.7 L425.7,1517.9 L427.5,1517.1 L429.3,1516.5 L431.0,1515.8 L432.8,1515.3 L434.6,1514.9 L436.5,1514.5 L438.3,1514.3 L440.1,1514.1 L442.0,1514.1 L443.8,1514.1 L445.7,1514.3 L447.6,1514.6 L449.5,1515.0 L451.4,1515.5 L453.3,1516.1 L455.2,1516.8 L457.1,1517.5 L459.0,1518.4 L460.9,1519.3 L462.8,1520.2 L464.6,1521.3 L466.5,1522.4 L468.4,1523.5 L470.2,1524.7 L472.0,1525.9 L473.9,1527.1 L475.6,1528.4 L477.4,1529.7 L479.2,1530.9 L480.9,1532.2 L482.7,1533.5 L484.4,1534.7 L486.2,1535.9 L487.9,1537.1 L489.6,1538.2 L491.3,1539.2 L493.1,1540.2 L494.8,1541.1 L496.5,1541.9 L498.3,1542.6 L500.0,1543.2 L501.8,1543.7 L503.6,1544.1 L505.4,1544.3 L507.2,1544.4 L509.0,1544.3 L510.9,1544.1 L512.7,1543.7 L514.6,1543.2 L516.5,1542.5 L518.3,1541.7 L520.2,1540.8 L522.0,1539.8 L523.8,1538.7 L525.5,1537.6 L527.2,1536.4 L528.8,1535.1 L530.4,1533.8 L531.9,1532.4 L533.3,1531.0 L534.7,1529.5 L536.0,1528.1 L537.3,1526.5 L538.5,1525.0 L539.7,1523.4 L540.8,1521.8 L541.9,1520.1 L542.9,1518.5 L543.9,1516.8 L544.9,1515.0 L545.8,1513.3 L546.8,1511.5 L547.6,1509.7 L548.5,1507.9 L549.3,1506.1 L550.1,1504.2 L550.9,1502.4 L551.7,1500.5 L552.5,1498.6 L553.2,1496.8 L554.0,1494.9 L554.7,1493.0 L555.5,1491.1 L556.2,1489.2 L556.9,1487.3 L557.7,1485.4 L558.4,1483.5 L559.2,1481.6 L560.0,1479.7 L560.8,1477.8 L561.6,1475.9 L562.4,1474.1 L563.2,1472.2 L564.1,1470.4 L565.0,1468.6 L565.9,1466.8 L566.9,1465.0 L567.9,1463.2 L568.9,1461.5 L570.0,1459.8 L571.0,1458.1 L572.1,1456.4 L573.3,1454.7 L574.5,1453.1 L575.6,1451.5 L576.9,1449.9 L578.1,1448.4 L579.4,1446.8 L580.7,1445.3 L582.1,1443.8 L583.4,1442.4 L584.8,1441.0 L586.2,1439.6 L587.7,1438.2 L589.2,1436.9 L590.7,1435.6 L592.2,1434.4 L593.7,1433.1 L595.3,1431.9 L596.9,1430.8 L598.5,1429.6 L600.2,1428.6 L601.9,1427.5 L603.6,1426.5 L605.3,1425.5 L607.1,1424.6 L608.8,1423.7 L610.6,1422.8 L612.5,1422.0 L614.3,1421.2 L616.2,1420.5 L618.1,1419.8 L620.0,1419.1 L621.9,1418.5 L623.8,1417.9 L625.8,1417.3 L627.7,1416.6 L629.6,1416.0 L631.5,1415.3 L633.3,1414.6 L635.1,1413.8 L636.9,1412.9 L638.6,1411.9 L640.3,1410.9 L641.9,1409.7 L643.5,1408.5 L645.0,1407.1 L646.5,1405.8 L647.9,1404.4 L649.3,1402.9 L650.7,1401.4 L652.0,1399.9 L653.4,1398.4 L654.7,1396.9 L656.1,1395.4 L657.4,1394.0 L658.7,1392.5 L660.0,1391.1 L661.4,1389.7 L662.7,1388.4 L664.0,1387.0 L665.4,1385.6 L666.7,1384.3 L668.1,1382.9 L669.4,1381.5 L670.8,1380.1 L672.1,1378.7 L673.5,1377.3 L674.9,1375.9 L676.3,1374.4 L677.6,1372.9 L679.0,1371.4 L680.4,1369.8 L681.8,1368.2 L683.3,1366.5 L684.7,1364.9 L686.1,1363.3 L687.6,1361.6 L689.0,1360.0 L690.5,1358.4 L692.0,1356.8 L693.5,1355.2 L695.0,1353.7 L696.5,1352.2 L698.0,1350.8 L699.6,1349.5 L701.2,1348.2 L702.7,1347.0 L704.3,1345.9 L706.0,1344.9 L707.6,1344.0 L709.3,1343.2 L710.9,1342.5 L712.6,1341.9 L714.4,1341.5 L716.1,1341.2 L717.8,1341.1 L719.6,1341.1 L721.4,1341.3 L723.2,1341.6 L725.1,1342.1 L726.9,1342.6 L728.7,1343.3 L730.6,1344.2 L732.4,1345.1 L734.2,1346.1 L736.0,1347.2 L737.8,1348.3 L739.6,1349.6 L741.3,1350.9 L743.0,1352.2 L744.7,1353.6 L746.3,1355.0 L747.9,1356.4 L749.5,1357.8 L751.1,1359.2 L752.7,1360.6 L754.3,1362.0 L755.9,1363.3 L757.5,1364.6 L759.2,1365.8 L760.8,1367.0 L762.5,1368.1 L764.2,1369.1 L766.0,1370.0 L767.8,1370.8 L769.6,1371.5 L771.5,1372.0 L773.4,1372.5 L775.3,1372.8 L777.2,1373.0 L779.1,1373.0 L781.0,1372.9 L782.8,1372.7 L784.7,1372.4 L786.5,1371.9 L788.2,1371.2 L789.8,1370.5 L791.4,1369.5 L793.0,1368.5 L794.4,1367.3 L795.8,1366.0 L797.2,1364.6 L798.5,1363.1 L799.7,1361.5 L800.9,1359.8 L802.1,1358.1 L803.2,1356.3 L804.3,1354.4 L805.3,1352.5 L806.4,1350.6 L807.3,1348.7 L808.3,1346.7 L809.3,1344.8 L810.2,1342.8 L811.1,1340.9 L812.0,1339.0 L812.9,1337.1 L813.8,1335.3 L814.7,1333.4 L815.6,1331.6 L816.4,1329.8 L817.3,1328.0 L818.1,1326.2 L819.0,1324.4 L819.8,1322.6 L820.6,1320.8 L821.5,1319.0 L822.3,1317.2 L823.1,1315.4 L823.9,1313.6 L824.7,1311.8 L825.5,1310.0 L826.3,1308.2 L827.1,1306.4 L827.9,1304.5 L828.7,1302.7 L829.4,1300.9 L830.2,1299.1 L831.0,1297.2 L831.7,1295.4 L832.5,1293.6 L833.3,1291.7 L834.0,1289.9 L834.8,1288.1 L835.5,1286.2 L836.3,1284.4 L837.1,1282.6 L837.8,1280.7 L838.6,1278.9 L839.3,1277.0 L840.1,1275.2 L840.8,1273.4 L841.6,1271.5 L842.3,1269.7 L843.1,1267.8 L843.8,1266.0 L844.6,1264.1 L845.3,1262.3 L846.1,1260.5 L846.8,1258.6 L847.6,1256.8 L848.3,1254.9 L849.1,1253.1 L849.9,1251.3 L850.6,1249.4 L851.4,1247.6 L852.2,1245.7 L853.0,1243.9 L853.7,1242.1 L854.5,1240.2 L855.3,1238.4 L856.1,1236.6 L856.9,1234.7 L857.7,1232.9 L858.5,1231.1 L859.3,1229.3 L860.2,1227.4 L861.0,1225.6 L861.8,1223.8 L862.7,1222.0 L863.5,1220.2 L864.4,1218.4 L865.2,1216.5 L866.1,1214.7 L867.0,1212.9 L867.8,1211.1 L868.7,1209.3 L869.6,1207.5 L870.5,1205.7 L871.5,1204.0 L872.4,1202.2 L873.3,1200.4 L874.3,1198.6 L875.2,1196.8 L876.2,1195.1 L877.1,1193.3 L878.1,1191.5 L879.1,1189.8 L880.1,1188.0 L881.1,1186.3 L882.2,1184.5 L883.2,1182.8 L884.3,1181.0 L885.3,1179.3 L886.4,1177.6 L887.5,1175.8 L888.6,1174.1 L889.7,1172.4 L890.8,1170.7 L892.0,1169.0 L893.1,1167.3 L894.3,1165.6 L895.5,1163.9 L896.7,1162.2 L897.9,1160.5 L899.1,1158.9 L900.4,1157.3 L901.7,1155.7 L903.0,1154.2 L904.3,1152.7 L905.7,1151.3 L907.1,1149.9 L908.5,1148.6 L910.0,1147.3 L911.5,1146.1 L913.0,1145.0 L914.6,1144.0 L916.2,1143.0 L917.9,1142.1 L919.6,1141.4 L921.4,1140.7 L923.2,1140.1 L925.0,1139.7 L926.9,1139.3 L928.9,1139.1 L930.9,1139.0 L932.9,1139.0 L934.9,1139.0 L937.0,1139.1 L939.1,1139.3 L941.2,1139.6 L943.3,1139.9 L945.4,1140.3 L947.5,1140.7 L949.6,1141.1 L951.6,1141.5 L953.7,1141.9 L955.7,1142.3 L957.7,1142.7 L959.7,1143.0 L961.7,1143.3 L963.7,1143.6 L965.7,1143.8 L967.6,1143.9 L969.5,1143.9 L971.5,1143.8 L973.4,1143.6 L975.3,1143.2 L977.2,1142.8 L979.1,1142.2 L980.9,1141.6 L982.8,1140.8 L984.6,1140.0 L986.4,1139.1 L988.1,1138.1 L989.8,1137.0 L991.5,1135.9 L993.2,1134.7 L994.8,1133.5 L996.3,1132.2 L997.9,1130.9 L999.4,1129.5 L1000.8,1128.1 L1002.3,1126.7 L1003.7,1125.2 L1005.1,1123.7 L1006.4,1122.2 L1007.7,1120.7 L1009.0,1119.1 L1010.3,1117.5 L1011.6,1116.0 L1012.8,1114.4 L1014.1,1112.8 L1015.3,1111.2 L1016.5,1109.6 L1017.7,1108.0 L1018.9,1106.4 L1020.1,1104.8 L1021.3,1103.2 L1022.4,1101.7 L1023.6,1100.1 L1024.8,1098.6 L1025.9,1097.1 L1027.1,1095.5 L1028.2,1094.0 L1029.4,1092.4 L1030.5,1090.9 L1031.7,1089.4 L1032.8,1087.8 L1034.0,1086.2 L1035.1,1084.7 L1036.3,1083.1 L1037.4,1081.5 L1038.6,1079.9 L1039.7,1078.3 L1040.9,1076.6 L1042.0,1074.9 L1043.2,1073.2 L1044.4,1071.5 L1045.6,1069.8 L1046.7,1068.0 L1047.9,1066.2 L1049.1,1064.4 L1050.3,1062.5 L1051.5,1060.6 L1052.8,1058.7 L1054.0,1056.7 L1055.2,1054.8 L1056.5,1052.8 L1057.8,1050.9 L1059.0,1049.0 L1060.4,1047.1 L1061.7,1045.2 L1063.0,1043.5 L1064.4,1041.8 L1065.8,1040.1 L1067.2,1038.6 L1068.7,1037.2 L1070.2,1035.9 L1071.7,1034.7 L1073.2,1033.6 L1074.8,1032.7 L1076.4,1032.0 L1078.1,1031.4 L1079.8,1031.0 L1081.5,1030.8 L1083.3,1030.8 L1085.1,1031.0 L1086.9,1031.4 L1088.8,1031.9 L1090.6,1032.7 L1092.5,1033.5 L1094.2,1034.5 L1095.9,1035.6 L1097.6,1036.8 L1099.1,1038.1 L1100.6,1039.4 L1101.9,1040.8 L1103.2,1042.3 L1104.5,1043.9 L1105.6,1045.5 L1106.7,1047.2 L1107.8,1048.9 L1108.7,1050.6 L1109.6,1052.4 L1110.5,1054.3 L1111.3,1056.1 L1112.1,1058.0 L1112.8,1059.9 L1113.5,1061.9 L1114.1,1063.8 L1114.8,1065.8 L1115.4,1067.8 L1115.9,1069.8 L1116.5,1071.7 L1117.0,1073.7 L1117.6,1075.7 L1118.1,1077.6 L1118.6,1079.6 L1119.1,1081.6 L1119.5,1083.5 L1120.0,1085.4 L1120.5,1087.4 L1120.9,1089.3 L1121.4,1091.3 L1121.8,1093.2 L1122.3,1095.1 L1122.7,1097.0 L1123.2,1099.0 L1123.6,1100.9 L1124.0,1102.9 L1124.5,1104.8 L1124.9,1106.7 L1125.3,1108.7 L1125.8,1110.6 L1126.2,1112.5 L1126.6,1114.5 L1127.0,1116.4 L1127.5,1118.4 L1127.9,1120.3 L1128.3,1122.3 L1128.7,1124.2 L1129.2,1126.2 L1129.6,1128.1 L1130.0,1130.1 L1130.4,1132.0 L1130.8,1134.0 L1131.3,1135.9 L1131.7,1137.9 L1132.1,1139.8 L1132.5,1141.8 L1132.9,1143.7 L1133.3,1145.7 L1133.7,1147.6 L1134.1,1149.6 L1134.6,1151.5 L1135.0,1153.5 L1135.4,1155.5 L1135.8,1157.4 L1136.2,1159.4 L1136.6,1161.3 L1137.0,1163.3 L1137.4,1165.3 L1137.8,1167.2 L1138.2,1169.2 L1138.6,1171.2 L1139.0,1173.1 L1139.4,1175.1 L1139.8,1177.0 L1140.2,1179.0 L1140.6,1181.0 L1141.0,1182.9 L1141.4,1184.9 L1141.8,1186.9 L1142.2,1188.8 L1142.5,1190.8 L1142.9,1192.8 L1143.3,1194.8 L1143.7,1196.7 L1144.1,1198.7 L1144.5,1200.7 L1144.9,1202.6 L1145.3,1204.6 L1145.6,1206.6 L1146.0,1208.5 L1146.4,1210.5 L1146.8,1212.5 L1147.2,1214.5 L1147.5,1216.4 L1147.9,1218.4 L1148.3,1220.4 L1148.7,1222.4 L1149.0,1224.3 L1149.4,1226.3 L1149.8,1228.3 L1150.2,1230.3 L1150.5,1232.2 L1150.9,1234.2 L1151.3,1236.2 L1151.6,1238.1 L1152.0,1240.1 L1152.4,1242.1 L1152.7,1244.1 L1153.1,1246.0 L1153.5,1248.0 L1153.8,1250.0 L1154.2,1252.0 L1154.6,1253.9 L1154.9,1255.9 L1155.3,1257.9 L1155.7,1259.9 L1156.0,1261.8 L1156.4,1263.8 L1156.7,1265.8 L1157.1,1267.8 L1157.4,1269.7 L1157.8,1271.7 L1158.2,1273.7 L1158.5,1275.6 L1158.9,1277.6 L1159.2,1279.6 L1159.6,1281.6 L1159.9,1283.5 L1160.3,1285.5 L1160.6,1287.5 L1161.0,1289.4 L1161.3,1291.4 L1161.7,1293.4 L1162.0,1295.4 L1162.3,1297.3 L1162.7,1299.3 L1163.0,1301.3 L1163.4,1303.2 L1163.7,1305.2 L1164.1,1307.2 L1164.4,1309.1 L1164.7,1311.1 L1165.1,1313.1 L1165.4,1315.0 L1165.8,1317.0 L1166.1,1319.0 L1166.4,1320.9 L1166.8,1322.9 L1167.1,1324.8 L1167.4,1326.8 L1167.8,1328.8 L1168.1,1330.7 L1168.4,1332.7 L1168.8,1334.7 L1169.1,1336.6 L1169.4,1338.6 L1169.8,1340.5 L1170.1,1342.5 L1170.4,1344.4 L1170.7,1346.4 L1171.1,1348.3 L1171.4,1350.3 L1171.7,1352.3 L1172.0,1354.2 L1172.4,1356.2 L1172.7,1358.1 L1173.0,1360.1 L1173.3,1362.0 L1173.7,1364.0 L1174.0,1365.9 L1174.3,1367.8 L1174.7,1369.8 L1175.0,1371.7 L1175.4,1373.7 L1175.7,1375.6 L1176.1,1377.6 L1176.5,1379.5 L1176.8,1381.5 L1177.2,1383.5 L1177.6,1385.4 L1178.1,1387.4 L1178.5,1389.3 L1178.9,1391.3 L1179.4,1393.2 L1179.9,1395.2 L1180.3,1397.2 L1180.8,1399.1 L1181.4,1401.1 L1181.9,1403.1 L1182.5,1405.0 L1183.0,1407.0 L1183.6,1409.0 L1184.2,1411.0 L1184.9,1413.0 L1185.5,1415.0 L1186.2,1416.9 L1186.9,1418.9 L1187.7,1420.9 L1188.4,1422.9 L1189.2,1425.0 L1190.0,1427.0 L1190.9,1429.0 L1191.8,1431.0 L1192.7,1433.0 L1193.6,1435.0 L1194.6,1437.0 L1195.6,1438.9 L1196.6,1440.8 L1197.7,1442.5 L1198.8,1444.2 L1200.0,1445.7 L1201.2,1447.0 L1202.5,1448.1 L1203.8,1449.0 L1205.2,1449.7 L1206.6,1450.2 L1208.1,1450.3 L1209.6,1450.2 L1211.2,1449.9 L1212.8,1449.3 L1214.4,1448.5 L1216.1,1447.5 L1217.7,1446.3 L1219.4,1445.0 L1221.0,1443.6 L1222.6,1442.1 L1224.2,1440.5 L1225.7,1438.8 L1227.2,1437.1 L1228.6,1435.4 L1230.0,1433.7 L1231.3,1431.9 L1232.6,1430.2 L1233.8,1428.4 L1235.0,1426.7 L1236.2,1425.0 L1237.4,1423.2 L1238.6,1421.5 L1239.7,1419.8 L1240.9,1418.1 L1242.1,1416.5 L1243.3,1414.9 L1244.5,1413.3 L1245.8,1411.7 L1247.1,1410.2 L1248.4,1408.7 L1249.8,1407.3 L1251.2,1405.9 L1252.7,1404.6 L1254.3,1403.3 L1255.9,1402.1 L1257.6,1401.0 L1259.4,1400.0 L1261.2,1399.0 L1263.0,1398.2 L1264.8,1397.5 L1266.7,1396.9 L1268.5,1396.4 L1270.4,1396.1 L1272.3,1395.9 L1274.1,1395.8 L1276.0,1395.9 L1277.8,1396.2 L1279.6,1396.6 L1281.5,1397.1 L1283.2,1397.7 L1285.0,1398.5 L1286.8,1399.3 L1288.5,1400.3 L1290.3,1401.3 L1292.0,1402.4 L1293.7,1403.6 L1295.4,1404.8 L1297.1,1406.1 L1298.8,1407.5 L1300.4,1408.9 L1302.0,1410.3 L1303.7,1411.7 L1305.3,1413.2 L1306.9,1414.6 L1308.4,1416.1 L1310.0,1417.5 L1311.6,1418.9 L1313.1,1420.3 L1314.6,1421.7 L1316.1,1423.0 L1317.6,1424.4 L1319.1,1425.7 L1320.6,1427.0 L1322.0,1428.3 L1323.5,1429.5 L1325.0,1430.8 L1326.4,1432.0 L1327.9,1433.3 L1329.4,1434.5 L1330.8,1435.8 L1332.3,1437.0 L1333.8,1438.2 L1335.3,1439.5 L1336.8,1440.7 L1338.3,1442.0 L1339.8,1443.2 L1341.4,1444.5 L1342.9,1445.7 L1344.5,1447.0 L1346.0,1448.2 L1347.6,1449.4 L1349.2,1450.7 L1350.8,1451.9 L1352.4,1453.1 L1354.1,1454.3 L1355.7,1455.5 L1357.4,1456.7 L1359.0,1457.8 L1360.7,1458.9 L1362.4,1460.0 L1364.1,1461.1 L1365.9,1462.2 L1367.6,1463.2 L1369.4,1464.2 L1371.1,1465.2 L1372.9,1466.2 L1374.8,1467.1 L1376.6,1467.9 L1378.4,1468.8 L1380.3,1469.6 L1382.2,1470.3 L1384.1,1471.1 L1386.0,1471.7 L1387.9,1472.3 L1389.8,1472.9 L1391.7,1473.4 L1393.7,1473.8 L1395.6,1474.1 L1397.6,1474.4 L1399.5,1474.6 L1401.5,1474.7 L1403.4,1474.7 L1405.4,1474.6 L1407.3,1474.4 L1409.2,1474.2 L1411.2,1473.8 L1413.1,1473.4 L1415.0,1472.9 L1417.0,1472.4 L1418.9,1471.8 L1420.8,1471.2 L1422.7,1470.5 L1424.6,1469.8 L1426.5,1469.0 L1428.4,1468.2 L1430.3,1467.4 L1432.2,1466.6 L1434.1,1465.8 L1436.0,1464.9 L1437.9,1464.1 L1439.8,1463.3 L1441.7,1462.4 L1443.5,1461.6 L1445.4,1460.8 L1447.3,1460.1 L1449.2,1459.3 L1451.0,1458.6 L1452.9,1457.8 L1454.8,1457.1 L1456.6,1456.4 L1458.5,1455.7 L1460.4,1455.0 L1462.2,1454.3 L1464.1,1453.6 L1465.9,1452.9 L1467.8,1452.2 L1469.7,1451.5 L1471.5,1450.8 L1473.4,1450.1 L1475.2,1449.4 L1477.1,1448.7 L1478.9,1447.9 L1480.8,1447.2 L1482.6,1446.4 L1484.5,1445.6 L1486.3,1444.8 L1488.2,1444.0 L1490.0,1443.2 L1491.9,1442.4 L1493.8,1441.6 L1495.6,1440.8 L1497.5,1440.0 L1499.3,1439.3 L1501.2,1438.5 L1503.1,1437.7 L1504.9,1436.9 L1506.8,1436.2 L1508.7,1435.5 L1510.6,1434.8 L1512.5,1434.1 L1514.4,1433.4 L1516.3,1432.8 L1518.2,1432.1 L1520.1,1431.5 L1522.0,1431.0 L1523.9,1430.5 L1525.8,1430.0 L1527.8,1429.5 L1529.7,1429.0 L1531.6,1428.6 L1533.6,1428.2 L1535.5,1427.8 L1537.5,1427.5 L1539.4,1427.2 L1541.4,1426.9 L1543.4,1426.6 L1545.3,1426.3 L1547.3,1426.1 L1549.3,1425.9 L1551.3,1425.7 L1553.2,1425.5 L1555.2,1425.3 L1557.2,1425.2 L1559.2,1425.0 L1561.2,1424.9 L1563.2,1424.8 L1565.2,1424.7 L1567.2,1424.7 L1569.2,1424.6 L1571.2,1424.5 L1573.2,1424.5 L1575.2,1424.5 L1577.2,1424.5 L1579.3,1424.5 L1581.3,1424.4 L1583.3,1424.5 L1585.3,1424.5 L1587.3,1424.5 L1589.4,1424.5 L1591.4,1424.6 L1593.4,1424.6 L1595.4,1424.6 L1597.5,1424.7 L1599.5,1424.7 L1601.5,1424.8 L1603.5,1424.8 L1605.6,1424.8 L1607.6,1424.9 L1609.6,1424.9 L1611.6,1425.0 L1613.7,1425.0 L1615.7,1425.1 L1617.7,1425.2 L1619.7,1425.3 L1621.7,1425.4 L1623.7,1425.6 L1625.7,1425.7 L1627.7,1426.0 L1629.6,1426.2 L1631.6,1426.5 L1633.5,1426.9 L1635.4,1427.3 L1637.4,1427.7 L1639.3,1428.2 L1641.1,1428.8 L1643.0,1429.4 L1644.8,1430.1 L1646.7,1430.8 L1648.5,1431.6 L1650.3,1432.5 L1652.1,1433.4 L1653.9,1434.3 L1655.6,1435.3 L1657.4,1436.3 L1659.2,1437.3 L1660.9,1438.4 L1662.6,1439.5 L1664.3,1440.6 L1666.1,1441.8 L1667.8,1443.0 L1669.5,1444.1 L1671.2,1445.3 L1672.9,1446.5 L1674.6,1447.7 L1676.3,1448.9 L1678.0,1450.1 L1679.7,1451.3 L1681.4,1452.5 L1683.0,1453.7 L1684.7,1454.9 L1686.4,1456.0 L1688.1,1457.2 L1689.8,1458.3 L1691.6,1459.3 L1693.3,1460.4 L1695.0,1461.4 L1696.7,1462.4 L1698.5,1463.3 L1700.2,1464.2 L1702.0,1465.1 L1703.7,1465.9 L1705.5,1466.6 L1707.3,1467.3 L1709.1,1467.9 L1710.9,1468.5 L1712.8,1469.0 L1714.6,1469.5 L1716.5,1469.8 L1718.4,1470.1 L1720.3,1470.4 L1722.2,1470.5 L1724.1,1470.6 L1726.0,1470.7 L1728.0,1470.7 L1729.9,1470.6 L1731.9,1470.5 L1733.9,1470.3 L1735.9,1470.1 L1737.9,1469.9 L1739.9,1469.6 L1741.9,1469.3 L1743.9,1469.0 L1746.0,1468.7 L1748.0,1468.3 L1750.0,1467.9 L1752.1,1467.5 L1754.1,1467.1 L1756.2,1466.7 L1758.2,1466.3 L1760.3,1465.9 L1762.3,1465.5 L1764.3,1465.1 L1766.4,1464.7 L1768.4,1464.4 L1770.5,1464.0 L1772.5,1463.7 L1774.5,1463.4 L1776.6,1463.1 L1778.6,1462.9 L1780.6,1462.7 L1782.6,1462.6 L1784.6,1462.5 L1786.6,1462.4 L1788.5,1462.4 L1790.5,1462.5 L1792.4,1462.6 L1794.4,1462.8 L1796.3,1463.0 L1798.2,1463.2 L1800.1,1463.6 L1802.1,1463.9 L1804.0,1464.3 L1805.8,1464.8 L1807.7,1465.2 L1809.6,1465.7 L1811.5,1466.3 L1813.4,1466.8 L1815.2,1467.4 L1817.1,1468.1 L1819.0,1468.7 L1820.8,1469.4 L1822.7,1470.0 L1824.5,1470.7 L1826.4,1471.4 L1828.3,1472.1 L1830.1,1472.9 L1832.0,1473.6 L1833.9,1474.3 L1835.8,1475.0 L1837.6,1475.7 L1839.5,1476.4 L1841.4,1477.1 L1843.3,1477.8 L1845.2,1478.5 L1847.2,1479.1 L1849.1,1479.7 L1851.0,1480.3 L1853.0,1480.9 L1854.9,1481.5 L1856.9,1482.0 L1858.9,1482.5 L1860.8,1483.0 L1862.9,1483.4 L1864.9,1483.8 L1866.9,1484.1 L1868.9,1484.5 L1870.9,1484.8 L1873.0,1485.1 L1875.0,1485.4 L1877.0,1485.8 L1879.0,1486.1 L1881.1,1486.4 L1883.0,1486.8 L1885.0,1487.2 L1887.0,1487.6 L1888.9,1488.0 L1890.9,1488.5 L1892.8,1489.1 L1894.7,1489.6 L1896.5,1490.2 L1898.3,1490.9 L1900.2,1491.6 L1901.9,1492.4 L1903.7,1493.1 L1905.5,1494.0 L1907.2,1494.8 L1908.9,1495.7 L1910.6,1496.7 L1912.3,1497.6 L1914.0,1498.6 L1915.6,1499.7 L1917.3,1500.7 L1918.9,1501.8 L1920.5,1502.9 L1922.1,1504.1 L1923.7,1505.2 L1925.3,1506.4 L1926.9,1507.6 L1928.4,1508.8 L1930.0,1510.1 L1931.6,1511.3 L1933.1,1512.6 L1934.7,1513.9 L1936.2,1515.2 L1937.7,1516.5 L1939.3,1517.9 L1940.8,1519.2 L1942.4,1520.6 L1943.9,1521.9 L1945.4,1523.3 L1947.0,1524.6 L1948.5,1526.0 L1950.1,1527.4 L1951.7,1528.7 L1953.2,1530.1 L1954.8,1531.5 L1956.4,1532.8 L1958.0,1534.2 L1959.6,1535.5 L1961.2,1536.8 L1962.8,1538.1 L1964.4,1539.3 L1966.1,1540.4 L1967.7,1541.4 L1969.4,1542.4 L1971.1,1543.2 L1972.8,1543.9 L1974.6,1544.4 L1976.3,1544.8 L1978.1,1545.0 L1979.9,1545.0 L1981.8,1544.9 L1983.6,1544.5 L1985.4,1544.0 L1987.3,1543.4 L1989.1,1542.6 L1990.9,1541.7 L1992.7,1540.7 L1994.4,1539.6 L1996.1,1538.5 L1997.7,1537.2 L1999.3,1535.9 L2000.8,1534.6 L2002.3,1533.1 L2003.8,1531.7 L2005.2,1530.2 L2006.6,1528.6 L2008.0,1527.0 L2009.3,1525.4 L2010.6,1523.8 L2011.9,1522.1 L2013.1,1520.5 L2014.3,1518.8 L2015.5,1517.1 L2016.7,1515.4 L2017.8,1513.8 L2019.0,1512.1 L2020.1,1510.5 L2021.2,1508.8 L2022.3,1507.2 L2023.4,1505.6 L2024.5,1504.0 L2025.5,1502.3 L2026.6,1500.7 L2027.7,1499.1 L2028.8,1497.5 L2029.9,1495.9 L2030.9,1494.2 L2032.0,1492.6 L2033.1,1490.9 L2034.3,1489.3 L2035.4,1487.6 L2036.5,1486.0 L2037.7,1484.3 L2038.9,1482.6 L2040.1,1480.9 L2041.3,1479.2 L2042.6,1477.4 L2043.9,1475.7 L2045.2,1474.0 L2046.5,1472.3 L2047.9,1470.7 L2049.3,1469.1 L2050.8,1467.6 L2052.2,1466.1 L2053.8,1464.8 L2055.3,1463.5 L2056.9,1462.3 L2058.6,1461.2 L2060.3,1460.2 L2062.0,1459.4 L2063.8,1458.7 L2065.6,1458.1 L2067.4,1457.7 L2069.3,1457.4 L2071.2,1457.2 L2073.1,1457.1 L2075.1,1457.1 L2077.0,1457.2 L2078.9,1457.4 L2080.9,1457.7 L2082.8,1458.2 L2084.7,1458.7 L2086.6,1459.3 L2088.5,1460.0 L2090.3,1460.8 L2092.1,1461.7 L2093.9,1462.6 L2095.6,1463.6 L2097.3,1464.7 L2099.0,1465.9 L2100.6,1467.1 L2102.2,1468.4 L2103.7,1469.7 L2105.2,1471.1 L2106.7,1472.5 L2108.2,1473.9 L2109.6,1475.4 L2111.1,1476.8 L2112.5,1478.3 L2113.9,1479.8 L2115.4,1481.3 L2116.8,1482.8 L2118.2,1484.2 L2119.6,1485.7 L2121.1,1487.1 L2122.5,1488.5 L2124.0,1489.9 L2125.4,1491.3 L2126.9,1492.6 L2128.4,1494.0 L2129.9,1495.3 L2131.4,1496.6 L2132.9,1497.9 L2134.4,1499.2 L2135.9,1500.5 L2137.4,1501.7 L2138.9,1503.0 L2140.5,1504.2 L2142.0,1505.5 L2143.6,1506.7 L2145.2,1507.9 L2146.7,1509.1 L2148.3,1510.3 L2149.9,1511.5 L2151.6,1512.7 L2153.2,1513.9 L2154.8,1515.0 L2156.5,1516.2 L2158.1,1517.4 L2159.7,1518.6" stroke="#00ff00"/>
</g>
<!-- inset -->
<rect x="1420" y="51" width="723" height="632" fill="#000"/>
<g clip-path="url(#ic)">
<rect x="1420" y="51" width="723" height="555" fill="#000000"/>
<rect x="1420" y="51" width="723" height="555" filter="url(#tex)"/>

<ellipse cx="1568.8" cy="65.2" rx="13.0" ry="19.4" fill="url(#gb)" fill-opacity="0.169"/>
<ellipse cx="1714.0" cy="95.3" rx="25.2" ry="31.7" fill="url(#gb)" fill-opacity="0.254"/>
<ellipse cx="1623.7" cy="113.0" rx="15.1" ry="19.4" fill="url(#gb)" fill-opacity="0.226"/>
<ellipse cx="1490.8" cy="107.7" rx="19.4" ry="13.0" fill="url(#gb)" fill-opacity="0.141"/>
<ellipse cx="1427.0" cy="136.0" rx="19.4" ry="25.2" fill="url(#gb)" fill-opacity="0.254"/>
<ellipse cx="1712.2" cy="191.0" rx="38.2" ry="31.7" fill="url(#gb)" fill-opacity="0.353"/>
<ellipse cx="1607.7" cy="180.3" rx="19.4" ry="25.2" fill="url(#gb)" fill-opacity="0.176"/>
<ellipse cx="1494.4" cy="178.5" rx="13.0" ry="13.0" fill="url(#gb)" fill-opacity="0.176"/>
<ellipse cx="1428.9" cy="205.0" rx="25.2" ry="38.2" fill="url(#gb)" fill-opacity="0.254"/>
<ellipse cx="1662.6" cy="245.8" rx="15.1" ry="15.1" fill="url(#gb)" fill-opacity="0.141"/>
<ellipse cx="1561.7" cy="302.5" rx="25.2" ry="25.2" fill="url(#gb)" fill-opacity="0.198"/>
<ellipse cx="1926.8" cy="97.0" rx="48.2" ry="38.2" fill="url(#gb)" fill-opacity="0.254"/>
<ellipse cx="2011.6" cy="59.8" rx="25.2" ry="18.7" fill="url(#gb)" fill-opacity="0.198"/>
<ellipse cx="1958.6" cy="158.7" rx="25.2" ry="16.6" fill="url(#gb)" fill-opacity="0.212"/>
<ellipse cx="2071.7" cy="112.8" rx="13.0" ry="18.7" fill="url(#gb)" fill-opacity="0.155"/>
<ellipse cx="2073.4" cy="167.6" rx="25.2" ry="25.2" fill="url(#gb)" fill-opacity="0.212"/>
<ellipse cx="1824.4" cy="181.7" rx="15.1" ry="15.1" fill="url(#gb)" fill-opacity="0.155"/>
<ellipse cx="1900.3" cy="201.0" rx="15.1" ry="15.1" fill="url(#gb)" fill-opacity="0.169"/>
<ellipse cx="1820.9" cy="232.9" rx="25.2" ry="25.2" fill="url(#gb)" fill-opacity="0.198"/>
<ellipse cx="2124.6" cy="259.4" rx="18.7" ry="25.2" fill="url(#gb)" fill-opacity="0.268"/>
<ellipse cx="2089.3" cy="271.8" rx="23.0" ry="23.0" fill="url(#gb)" fill-opacity="0.198"/>
<ellipse cx="2006.3" cy="277.0" rx="13.0" ry="13.0" fill="url(#gb)" fill-opacity="0.141"/>
<ellipse cx="1965.7" cy="241.7" rx="18.0" ry="18.0" fill="url(#gb)" fill-opacity="0.127"/>
<ellipse cx="2110.5" cy="81.0" rx="13.0" ry="13.0" fill="url(#gb)" fill-opacity="0.141"/>
<ellipse cx="1847.3" cy="77.5" rx="13.0" ry="13.0" fill="url(#gb)" fill-opacity="0.141"/>
<ellipse cx="1451.9" cy="358.3" rx="51.1" ry="57.6" fill="url(#gb)" fill-opacity="0.476"/>
<ellipse cx="1505.0" cy="482.3" rx="44.6" ry="38.2" fill="url(#gb)" fill-opacity="0.282"/>
<ellipse cx="1584.7" cy="530.1" rx="38.2" ry="36.0" fill="url(#gb)" fill-opacity="0.353"/>
<ellipse cx="1623.7" cy="512.4" rx="23.0" ry="20.2" fill="url(#gb)" fill-opacity="0.212"/>
<ellipse cx="1613.0" cy="581.5" rx="19.4" ry="23.0" fill="url(#gb)" fill-opacity="0.226"/>
<ellipse cx="1641.4" cy="388.4" rx="25.2" ry="25.2" fill="url(#gb)" fill-opacity="0.184"/>
<ellipse cx="1570.5" cy="347.7" rx="15.1" ry="15.1" fill="url(#gb)" fill-opacity="0.155"/>
<ellipse cx="1460.7" cy="443.4" rx="13.0" ry="18.0" fill="url(#gb)" fill-opacity="0.155"/>
<ellipse cx="1568.8" cy="418.6" rx="15.1" ry="15.1" fill="url(#gb)" fill-opacity="0.141"/>
<ellipse cx="1669.7" cy="454.0" rx="15.1" ry="15.1" fill="url(#gb)" fill-opacity="0.141"/>
<ellipse cx="1738.8" cy="547.9" rx="18.0" ry="20.2" fill="url(#gb)" fill-opacity="0.198"/>
<ellipse cx="1772.5" cy="485.9" rx="18.0" ry="18.0" fill="url(#gb)" fill-opacity="0.176"/>
<ellipse cx="1985.1" cy="365.3" rx="44.6" ry="36.0" fill="url(#gb)" fill-opacity="0.353"/>
<ellipse cx="2128.2" cy="384.8" rx="25.2" ry="38.2" fill="url(#gb)" fill-opacity="0.311"/>
<ellipse cx="2073.4" cy="349.4" rx="15.1" ry="15.1" fill="url(#gb)" fill-opacity="0.169"/>
<ellipse cx="1921.5" cy="430.7" rx="23.0" ry="19.4" fill="url(#gb)" fill-opacity="0.282"/>
<ellipse cx="2025.7" cy="432.4" rx="20.2" ry="23.0" fill="url(#gb)" fill-opacity="0.282"/>
<ellipse cx="1969.2" cy="485.4" rx="44.6" ry="33.1" fill="url(#gb)" fill-opacity="0.318"/>
<ellipse cx="2085.8" cy="497.8" rx="38.2" ry="28.1" fill="url(#gb)" fill-opacity="0.353"/>
<ellipse cx="1882.7" cy="504.8" rx="15.1" ry="15.1" fill="url(#gb)" fill-opacity="0.212"/>
<ellipse cx="2105.2" cy="542.0" rx="18.0" ry="18.0" fill="url(#gb)" fill-opacity="0.198"/>
<ellipse cx="2018.7" cy="538.4" rx="13.0" ry="15.1" fill="url(#gb)" fill-opacity="0.155"/>
<ellipse cx="1972.7" cy="577.3" rx="15.1" ry="15.1" fill="url(#gb)" fill-opacity="0.184"/>
<ellipse cx="1792.6" cy="481.9" rx="15.1" ry="15.1" fill="url(#gb)" fill-opacity="0.141"/>
<ellipse cx="1530.0" cy="250.0" rx="14.4" ry="14.4" fill="url(#gb)" fill-opacity="0.127"/>
<ellipse cx="1470.0" cy="290.0" rx="14.4" ry="14.4" fill="url(#gb)" fill-opacity="0.141"/>
<ellipse cx="1680.0" cy="300.0" rx="14.4" ry="14.4" fill="url(#gb)" fill-opacity="0.127"/>
<ellipse cx="1880.0" cy="300.0" rx="15.8" ry="15.8" fill="url(#gb)" fill-opacity="0.127"/>
<ellipse cx="1850.0" cy="130.0" rx="14.4" ry="14.4" fill="url(#gb)" fill-opacity="0.127"/>
<ellipse cx="2040.0" cy="210.0" rx="14.4" ry="14.4" fill="url(#gb)" fill-opacity="0.127"/>
<ellipse cx="1760.0" cy="140.0" rx="14.4" ry="14.4" fill="url(#gb)" fill-opacity="0.113"/>
<ellipse cx="1530.0" cy="150.0" rx="15.8" ry="15.8" fill="url(#gb)" fill-opacity="0.127"/>
<ellipse cx="1690.0" cy="420.0" rx="14.4" ry="14.4" fill="url(#gb)" fill-opacity="0.127"/>
<ellipse cx="1840.0" cy="560.0" rx="15.8" ry="15.8" fill="url(#gb)" fill-opacity="0.141"/>
<ellipse cx="1900.0" cy="580.0" rx="14.4" ry="14.4" fill="url(#gb)" fill-opacity="0.127"/>
<ellipse cx="2060.0" cy="590.0" rx="15.8" ry="15.8" fill="url(#gb)" fill-opacity="0.141"/>
<ellipse cx="1450.0" cy="560.0" rx="15.8" ry="15.8" fill="url(#gb)" fill-opacity="0.155"/>
<ellipse cx="1520.0" cy="590.0" rx="14.4" ry="11.5" fill="url(#gb)" fill-opacity="0.155"/>
<ellipse cx="1680.0" cy="590.0" rx="14.4" ry="11.5" fill="url(#gb)" fill-opacity="0.141"/>
<ellipse cx="2130.0" cy="460.0" rx="14.4" ry="17.3" fill="url(#gb)" fill-opacity="0.155"/>
<ellipse cx="1500.0" cy="400.0" rx="14.4" ry="14.4" fill="url(#gb)" fill-opacity="0.127"/>
<ellipse cx="1860.0" cy="400.0" rx="14.4" ry="14.4" fill="url(#gb)" fill-opacity="0.141"/>
<ellipse cx="2040.0" cy="300.0" rx="14.4" ry="14.4" fill="url(#gb)" fill-opacity="0.127"/>
<rect x="1526" y="598" width="50" height="8" fill="#007a7a" filter="url(#bl)"/>
<polygon points="1800,272 1856,320 1852,360 1779,414 1722,346 1740,300" fill="url(#cg)" filter="url(#bl2)"/>
</g>
<rect x="1680" y="335" width="225" height="5" fill="#ff0000" opacity="0.42"/>
<rect x="1679" y="324" width="186" height="12" fill="#ff0000"/>
<path d="M1862,316 Q1863,313 1867,314 L1911,326 Q1915,328 1911,331 L1866,343 Q1862,344 1862,340 Z" fill="#ff0000"/>
<g fill="#fff">
<rect x="1624.5" y="635" width="7" height="30"/>
<rect x="1821" y="635" width="7.5" height="30"/>
<rect x="1624.5" y="646" width="204" height="7.5"/>
</g>
<g fill="#fff" stroke="#fff" stroke-width="1.5">
<text transform="translate(1849,668) scale(0.96,1)" font-size="51.5">20</text>
<text transform="translate(1913,668) scale(1.2,1)" font-size="47.5">nm</text>
</g>
<!-- legend -->
<g stroke-width="13" stroke-linecap="round">
<line x1="284" y1="137.3" x2="465.5" y2="137.3" stroke="#ff0000"/>
<line x1="284" y1="237" x2="465.5" y2="237" stroke="#000"/>
<line x1="284" y1="336.4" x2="465.5" y2="336.4" stroke="#00ff00"/>
</g>
<g font-size="81" fill="#000">
<text transform="translate(487.3,165.2) scale(1,1.04)">C</text>
<text transform="translate(486.8,265) scale(1,1.04)">Ag</text>
<text transform="translate(487.5,363.8) scale(1,1.04)">Si</text>
</g>
<g font-size="81" fill="#000"><text transform="translate(331.9,1796) scale(1,1.04)" text-anchor="middle">5</text><text transform="translate(696.5,1796) scale(1,1.04)" text-anchor="middle">10</text><text transform="translate(1061.2,1796) scale(1,1.04)" text-anchor="middle">15</text><text transform="translate(1425.8,1796) scale(1,1.04)" text-anchor="middle">20</text><text transform="translate(1790.5,1796) scale(1,1.04)" text-anchor="middle">25</text><text transform="translate(2155.1,1796) scale(1,1.04)" text-anchor="middle">30</text></g>
<g fill="#fff"><rect x="656.03" y="1788.51" width="15.80" height="8.09"/><rect x="678.99" y="1788.51" width="15.17" height="8.09"/><rect x="1020.68" y="1788.51" width="15.80" height="8.09"/><rect x="1043.64" y="1788.51" width="15.17" height="8.09"/></g>
<text transform="translate(1228.7,1936) scale(1,1.04)" font-size="96" text-anchor="middle" fill="#000">Position (nm)</text>
<text transform="translate(99,905.8) rotate(-90) scale(1,1.04)" font-size="95.5" text-anchor="middle" fill="#000">Intensity (a. u.)</text>
</svg>
</body></html>
